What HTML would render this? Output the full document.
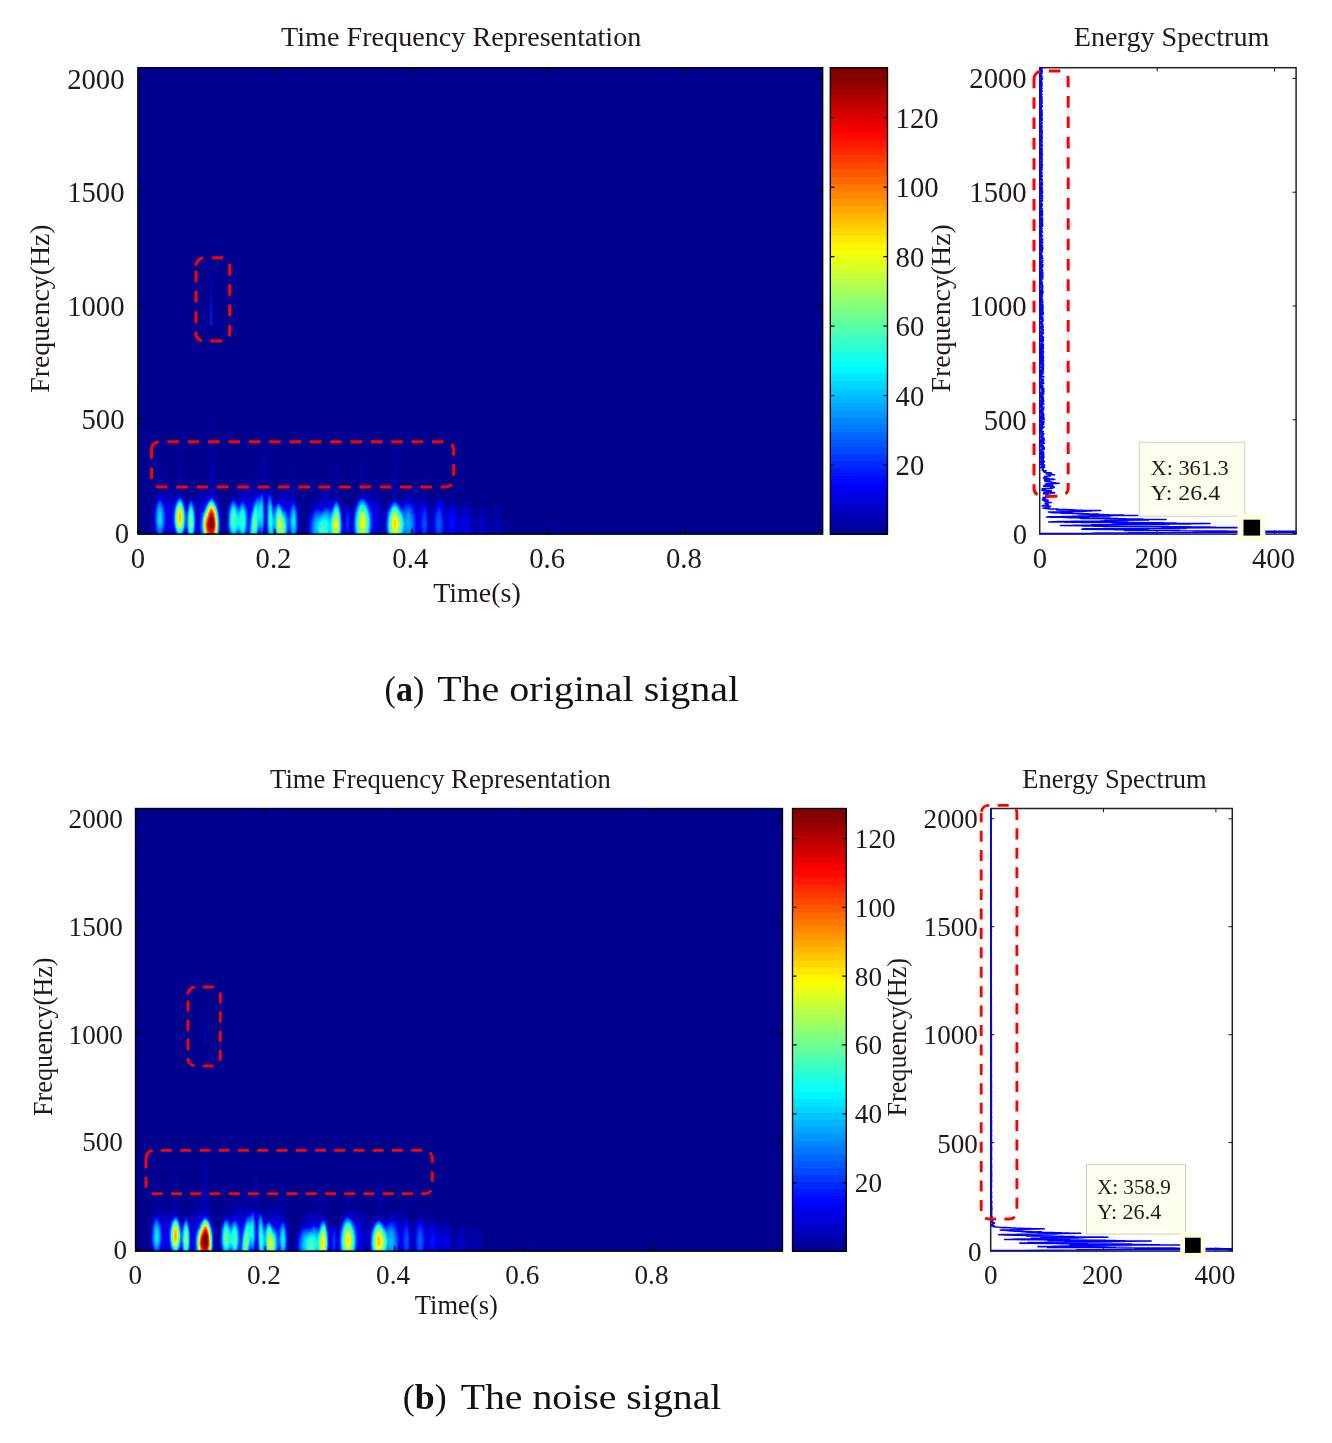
<!DOCTYPE html>
<html lang="en"><head><meta charset="utf-8"><title>Time frequency representation and energy spectrum</title>
<style>
html,body{margin:0;padding:0;background:#fff}
body{width:1332px;height:1443px;overflow:hidden}
svg{display:block;filter:blur(0.45px)}
text{font-family:"Liberation Serif", serif;fill:#231815}
.cap{font-size:36.5px;fill:#111}
</style></head><body>
<svg width="1332" height="1443" viewBox="0 0 1332 1443">
<defs>
<radialGradient id="gg"><stop offset="0.00" stop-color="#fff" stop-opacity="1.000"/><stop offset="0.05" stop-color="#fff" stop-opacity="0.994"/><stop offset="0.10" stop-color="#fff" stop-opacity="0.976"/><stop offset="0.15" stop-color="#fff" stop-opacity="0.946"/><stop offset="0.20" stop-color="#fff" stop-opacity="0.905"/><stop offset="0.25" stop-color="#fff" stop-opacity="0.854"/><stop offset="0.30" stop-color="#fff" stop-opacity="0.794"/><stop offset="0.35" stop-color="#fff" stop-opacity="0.727"/><stop offset="0.40" stop-color="#fff" stop-opacity="0.655"/><stop offset="0.45" stop-color="#fff" stop-opacity="0.578"/><stop offset="0.50" stop-color="#fff" stop-opacity="0.500"/><stop offset="0.55" stop-color="#fff" stop-opacity="0.422"/><stop offset="0.60" stop-color="#fff" stop-opacity="0.345"/><stop offset="0.65" stop-color="#fff" stop-opacity="0.273"/><stop offset="0.70" stop-color="#fff" stop-opacity="0.206"/><stop offset="0.75" stop-color="#fff" stop-opacity="0.146"/><stop offset="0.80" stop-color="#fff" stop-opacity="0.095"/><stop offset="0.85" stop-color="#fff" stop-opacity="0.054"/><stop offset="0.90" stop-color="#fff" stop-opacity="0.024"/><stop offset="0.95" stop-color="#fff" stop-opacity="0.006"/><stop offset="1.00" stop-color="#fff" stop-opacity="0.000"/></radialGradient>
<radialGradient id="gp"><stop offset="0.00" stop-color="#fff" stop-opacity="1.000"/><stop offset="0.05" stop-color="#fff" stop-opacity="0.998"/><stop offset="0.10" stop-color="#fff" stop-opacity="0.990"/><stop offset="0.15" stop-color="#fff" stop-opacity="0.978"/><stop offset="0.20" stop-color="#fff" stop-opacity="0.960"/><stop offset="0.25" stop-color="#fff" stop-opacity="0.938"/><stop offset="0.30" stop-color="#fff" stop-opacity="0.910"/><stop offset="0.35" stop-color="#fff" stop-opacity="0.878"/><stop offset="0.40" stop-color="#fff" stop-opacity="0.840"/><stop offset="0.45" stop-color="#fff" stop-opacity="0.797"/><stop offset="0.50" stop-color="#fff" stop-opacity="0.750"/><stop offset="0.55" stop-color="#fff" stop-opacity="0.698"/><stop offset="0.60" stop-color="#fff" stop-opacity="0.640"/><stop offset="0.65" stop-color="#fff" stop-opacity="0.577"/><stop offset="0.70" stop-color="#fff" stop-opacity="0.510"/><stop offset="0.75" stop-color="#fff" stop-opacity="0.438"/><stop offset="0.80" stop-color="#fff" stop-opacity="0.360"/><stop offset="0.85" stop-color="#fff" stop-opacity="0.278"/><stop offset="0.90" stop-color="#fff" stop-opacity="0.190"/><stop offset="0.95" stop-color="#fff" stop-opacity="0.098"/><stop offset="1.00" stop-color="#fff" stop-opacity="0.000"/></radialGradient>
<linearGradient id="stk" x1="0" y1="0" x2="0" y2="1"><stop offset="0" stop-color="#0008c0" stop-opacity="0"/><stop offset=".5" stop-color="#0008cc" stop-opacity=".6"/><stop offset="1" stop-color="#0818e0" stop-opacity="1"/></linearGradient>
<linearGradient id="jetbar" x1="0" y1="0" x2="0" y2="1"><stop offset="0.000" stop-color="#800000"/><stop offset="0.125" stop-color="#ff0000"/><stop offset="0.250" stop-color="#ff8000"/><stop offset="0.375" stop-color="#ffff00"/><stop offset="0.500" stop-color="#80ff80"/><stop offset="0.625" stop-color="#00ffff"/><stop offset="0.750" stop-color="#0080ff"/><stop offset="0.875" stop-color="#0000ff"/><stop offset="1.000" stop-color="#00008f"/></linearGradient>
<filter id="jeta" filterUnits="userSpaceOnUse" x="137.6" y="67.4" width="685.4" height="467" color-interpolation-filters="sRGB"><feGaussianBlur stdDeviation="0.8"/><feComponentTransfer><feFuncR type="table" tableValues="0 0 0 0 0 0 0 0 0 0 0 0 0 0 0 0 0 0 0 0 0 0 0 0 0 0.011 0.076 0.142 0.208 0.275 0.343 0.411 0.48 0.55 0.621 0.692 0.764 0.837 0.911 0.985 1 1 1 1 1 1 1 1 1 1 1 1 0.962 0.874 0.784 0.694 0.602 0.508 0.5 0.5 0.5 0.5 0.5 0.5 0.5 0.5 0.5 0.5 0.5 0.5 0.5 0.5 0.5 0.5 0.5 0.5 0.5 0.5 0.5 0.5 0.5 0.5 0.5 0.5 0.5 0.5 0.5 0.5 0.5 0.5 0.5 0.5 0.5 0.5 0.5 0.5 0.5 0.5 0.5 0.5 0.5 0.5 0.5 0.5 0.5 0.5 0.5 0.5 0.5 0.5 0.5 0.5 0.5 0.5 0.5 0.5 0.5 0.5 0.5 0.5 0.5 0.5 0.5 0.5 0.5 0.5 0.5 0.5 0.5"/><feFuncG type="table" tableValues="0 0 0 0 0 0 0 0 0 0.049 0.105 0.162 0.219 0.276 0.335 0.393 0.453 0.513 0.573 0.634 0.695 0.757 0.82 0.883 0.947 1 1 1 1 1 1 1 1 1 1 1 1 1 1 1 0.94 0.863 0.786 0.708 0.629 0.55 0.469 0.387 0.304 0.22 0.135 0.049 0 0 0 0 0 0 0 0 0 0 0 0 0 0 0 0 0 0 0 0 0 0 0 0 0 0 0 0 0 0 0 0 0 0 0 0 0 0 0 0 0 0 0 0 0 0 0 0 0 0 0 0 0 0 0 0 0 0 0 0 0 0 0 0 0 0 0 0 0 0 0 0 0 0 0 0 0"/><feFuncB type="table" tableValues="0.562 0.615 0.667 0.721 0.774 0.828 0.883 0.937 0.993 1 1 1 1 1 1 1 1 1 1 1 1 1 1 1 1 0.989 0.924 0.858 0.792 0.725 0.657 0.589 0.52 0.45 0.379 0.308 0.236 0.163 0.089 0.015 0 0 0 0 0 0 0 0 0 0 0 0 0 0 0 0 0 0 0 0 0 0 0 0 0 0 0 0 0 0 0 0 0 0 0 0 0 0 0 0 0 0 0 0 0 0 0 0 0 0 0 0 0 0 0 0 0 0 0 0 0 0 0 0 0 0 0 0 0 0 0 0 0 0 0 0 0 0 0 0 0 0 0 0 0 0 0 0 0"/></feComponentTransfer></filter>
<filter id="jetb" filterUnits="userSpaceOnUse" x="135.2" y="808.2" width="647.6" height="443.2" color-interpolation-filters="sRGB"><feGaussianBlur stdDeviation="0.8"/><feComponentTransfer><feFuncR type="table" tableValues="0 0 0 0 0 0 0 0 0 0 0 0 0 0 0 0 0 0 0 0 0 0 0 0 0 0.011 0.076 0.142 0.208 0.275 0.343 0.411 0.48 0.55 0.621 0.692 0.764 0.837 0.911 0.985 1 1 1 1 1 1 1 1 1 1 1 1 0.962 0.874 0.784 0.694 0.602 0.508 0.5 0.5 0.5 0.5 0.5 0.5 0.5 0.5 0.5 0.5 0.5 0.5 0.5 0.5 0.5 0.5 0.5 0.5 0.5 0.5 0.5 0.5 0.5 0.5 0.5 0.5 0.5 0.5 0.5 0.5 0.5 0.5 0.5 0.5 0.5 0.5 0.5 0.5 0.5 0.5 0.5 0.5 0.5 0.5 0.5 0.5 0.5 0.5 0.5 0.5 0.5 0.5 0.5 0.5 0.5 0.5 0.5 0.5 0.5 0.5 0.5 0.5 0.5 0.5 0.5 0.5 0.5 0.5 0.5 0.5 0.5"/><feFuncG type="table" tableValues="0 0 0 0 0 0 0 0 0 0.049 0.105 0.162 0.219 0.276 0.335 0.393 0.453 0.513 0.573 0.634 0.695 0.757 0.82 0.883 0.947 1 1 1 1 1 1 1 1 1 1 1 1 1 1 1 0.94 0.863 0.786 0.708 0.629 0.55 0.469 0.387 0.304 0.22 0.135 0.049 0 0 0 0 0 0 0 0 0 0 0 0 0 0 0 0 0 0 0 0 0 0 0 0 0 0 0 0 0 0 0 0 0 0 0 0 0 0 0 0 0 0 0 0 0 0 0 0 0 0 0 0 0 0 0 0 0 0 0 0 0 0 0 0 0 0 0 0 0 0 0 0 0 0 0 0 0"/><feFuncB type="table" tableValues="0.562 0.615 0.667 0.721 0.774 0.828 0.883 0.937 0.993 1 1 1 1 1 1 1 1 1 1 1 1 1 1 1 1 0.989 0.924 0.858 0.792 0.725 0.657 0.589 0.52 0.45 0.379 0.308 0.236 0.163 0.089 0.015 0 0 0 0 0 0 0 0 0 0 0 0 0 0 0 0 0 0 0 0 0 0 0 0 0 0 0 0 0 0 0 0 0 0 0 0 0 0 0 0 0 0 0 0 0 0 0 0 0 0 0 0 0 0 0 0 0 0 0 0 0 0 0 0 0 0 0 0 0 0 0 0 0 0 0 0 0 0 0 0 0 0 0 0 0 0 0 0 0"/></feComponentTransfer></filter>
</defs>
<rect width="1332" height="1443" fill="#fff"/>
<clipPath id="cpa"><rect x="137.6" y="67.4" width="685.4" height="467"/></clipPath>
<rect x="137.6" y="67.4" width="685.4" height="467" fill="#00008f"/>
<g clip-path="url(#cpa)"><g filter="url(#jeta)">
<rect x="137.6" y="386.7" width="452" height="147.7" fill="#000"/>
<ellipse cx="169" cy="517.6" rx="20.5" ry="38.7" fill="url(#gg)" opacity="0.056"/>
<ellipse cx="206.6" cy="517.6" rx="20.5" ry="41" fill="url(#gg)" opacity="0.061"/>
<ellipse cx="247.6" cy="517.6" rx="20.5" ry="43.2" fill="url(#gg)" opacity="0.069"/>
<ellipse cx="285.3" cy="517.6" rx="17.8" ry="41" fill="url(#gg)" opacity="0.061"/>
<ellipse cx="326.3" cy="519.9" rx="20.5" ry="38.7" fill="url(#gg)" opacity="0.061"/>
<ellipse cx="370.8" cy="519.9" rx="20.5" ry="38.7" fill="url(#gg)" opacity="0.061"/>
<ellipse cx="411.8" cy="519.9" rx="20.5" ry="38.7" fill="url(#gg)" opacity="0.052"/>
<ellipse cx="446" cy="519.9" rx="20.5" ry="34.1" fill="url(#gg)" opacity="0.031"/>
<ellipse cx="159.6" cy="481.2" rx="3.4" ry="34.1" fill="url(#gg)" opacity="0.013"/>
<ellipse cx="180" cy="478.9" rx="3.4" ry="38.7" fill="url(#gg)" opacity="0.022"/>
<ellipse cx="211.6" cy="476.6" rx="4.1" ry="52.3" fill="url(#gg)" opacity="0.026"/>
<ellipse cx="211.6" cy="435.7" rx="2.7" ry="34.1" fill="url(#gg)" opacity="0.011"/>
<ellipse cx="264.7" cy="476.6" rx="3.4" ry="41" fill="url(#gg)" opacity="0.022"/>
<ellipse cx="256.5" cy="484.6" rx="3.4" ry="27.3" fill="url(#gg)" opacity="0.018"/>
<ellipse cx="294.2" cy="483.4" rx="3.4" ry="27.3" fill="url(#gg)" opacity="0.013"/>
<ellipse cx="336.6" cy="481.2" rx="3.4" ry="34.1" fill="url(#gg)" opacity="0.015"/>
<ellipse cx="362.1" cy="481.2" rx="3.4" ry="34.1" fill="url(#gg)" opacity="0.018"/>
<ellipse cx="394.8" cy="478.9" rx="4.1" ry="38.7" fill="url(#gg)" opacity="0.022"/>
<ellipse cx="424.8" cy="485.7" rx="3.4" ry="25" fill="url(#gg)" opacity="0.011"/>
<ellipse cx="159.6" cy="518" rx="6.2" ry="22.8" fill="url(#gp)" opacity="0.142"/>
<ellipse cx="159.6" cy="509.8" rx="3.4" ry="21.6" fill="url(#gg)" opacity="0.027"/>
<ellipse cx="159.6" cy="527.3" rx="7.1" ry="13.7" fill="url(#gg)" opacity="0.021"/>
<ellipse cx="180" cy="517.6" rx="6.7" ry="21.6" fill="url(#gp)" opacity="0.295"/>
<ellipse cx="180" cy="509.8" rx="3.7" ry="20.5" fill="url(#gg)" opacity="0.062"/>
<ellipse cx="180" cy="527.1" rx="7.7" ry="13" fill="url(#gg)" opacity="0.047"/>
<ellipse cx="190.9" cy="521" rx="5.1" ry="23.9" fill="url(#gp)" opacity="0.237"/>
<ellipse cx="190.9" cy="512.4" rx="2.8" ry="22.7" fill="url(#gg)" opacity="0.048"/>
<ellipse cx="190.9" cy="528.5" rx="5.9" ry="14.3" fill="url(#gg)" opacity="0.036"/>
<ellipse cx="211.6" cy="523.5" rx="8.7" ry="25.9" fill="url(#gp)" opacity="0.388"/>
<ellipse cx="211.6" cy="514.2" rx="4.8" ry="24.6" fill="url(#gg)" opacity="0.085"/>
<ellipse cx="211.6" cy="529.5" rx="10" ry="15.6" fill="url(#gg)" opacity="0.065"/>
<ellipse cx="204.5" cy="526.7" rx="5.1" ry="18.2" fill="url(#gp)" opacity="0.115"/>
<ellipse cx="204.5" cy="520.1" rx="2.8" ry="17.3" fill="url(#gg)" opacity="0.022"/>
<ellipse cx="204.5" cy="530.8" rx="5.9" ry="10.9" fill="url(#gg)" opacity="0.016"/>
<ellipse cx="233.3" cy="519.9" rx="6.6" ry="22.8" fill="url(#gp)" opacity="0.213"/>
<ellipse cx="233.3" cy="511.7" rx="3.6" ry="21.6" fill="url(#gg)" opacity="0.043"/>
<ellipse cx="233.3" cy="528" rx="7.6" ry="13.7" fill="url(#gg)" opacity="0.032"/>
<ellipse cx="242.3" cy="521" rx="5.7" ry="21.6" fill="url(#gp)" opacity="0.168"/>
<ellipse cx="242.3" cy="513.2" rx="3.2" ry="20.5" fill="url(#gg)" opacity="0.033"/>
<ellipse cx="242.3" cy="528.5" rx="6.6" ry="13" fill="url(#gg)" opacity="0.025"/>
<ellipse cx="255" cy="523.3" rx="5.3" ry="30.7" fill="url(#gp)" opacity="0.194" transform="rotate(6.8 255 523.3)"/>
<ellipse cx="255" cy="512.2" rx="2.9" ry="29.2" fill="url(#gg)" opacity="0.038" transform="rotate(6.8 255 512.2)"/>
<ellipse cx="255" cy="529.4" rx="6.1" ry="18.4" fill="url(#gg)" opacity="0.029" transform="rotate(6.8 255 529.4)"/>
<ellipse cx="261.9" cy="514.2" rx="3.4" ry="27.3" fill="url(#gp)" opacity="0.168"/>
<ellipse cx="261.9" cy="504.3" rx="1.9" ry="25.9" fill="url(#gg)" opacity="0.033"/>
<ellipse cx="261.9" cy="525.8" rx="4" ry="16.4" fill="url(#gg)" opacity="0.025"/>
<ellipse cx="270.4" cy="519.9" rx="4.5" ry="30.7" fill="url(#gp)" opacity="0.200" transform="rotate(-2 270.4 519.9)"/>
<ellipse cx="270.4" cy="508.8" rx="2.5" ry="29.2" fill="url(#gg)" opacity="0.040" transform="rotate(-2 270.4 508.8)"/>
<ellipse cx="270.4" cy="528" rx="5.2" ry="18.4" fill="url(#gg)" opacity="0.030" transform="rotate(-2 270.4 528)"/>
<ellipse cx="279.5" cy="524.4" rx="6.2" ry="23.9" fill="url(#gp)" opacity="0.231" transform="rotate(-4 279.5 524.4)"/>
<ellipse cx="279.5" cy="515.8" rx="3.4" ry="22.7" fill="url(#gg)" opacity="0.047" transform="rotate(-4 279.5 515.8)"/>
<ellipse cx="279.5" cy="529.9" rx="7.1" ry="14.3" fill="url(#gg)" opacity="0.035" transform="rotate(-4 279.5 529.9)"/>
<ellipse cx="285.3" cy="525.5" rx="4.1" ry="18.2" fill="url(#gp)" opacity="0.101"/>
<ellipse cx="285.3" cy="519" rx="2.3" ry="17.3" fill="url(#gg)" opacity="0.019"/>
<ellipse cx="285.3" cy="530.3" rx="4.7" ry="10.9" fill="url(#gg)" opacity="0.014"/>
<ellipse cx="293.8" cy="522.1" rx="5.1" ry="22.8" fill="url(#gp)" opacity="0.149"/>
<ellipse cx="293.8" cy="513.9" rx="2.8" ry="21.6" fill="url(#gg)" opacity="0.029"/>
<ellipse cx="293.8" cy="529" rx="5.9" ry="13.7" fill="url(#gg)" opacity="0.022"/>
<ellipse cx="316.7" cy="527.8" rx="10.3" ry="21.6" fill="url(#gp)" opacity="0.122"/>
<ellipse cx="316.7" cy="520" rx="5.6" ry="20.5" fill="url(#gg)" opacity="0.023"/>
<ellipse cx="316.7" cy="531.2" rx="11.8" ry="13" fill="url(#gg)" opacity="0.018"/>
<ellipse cx="326.8" cy="527.8" rx="9" ry="22.8" fill="url(#gp)" opacity="0.128"/>
<ellipse cx="326.8" cy="519.6" rx="5" ry="21.6" fill="url(#gg)" opacity="0.025"/>
<ellipse cx="326.8" cy="531.2" rx="10.4" ry="13.7" fill="url(#gg)" opacity="0.019"/>
<ellipse cx="336.6" cy="523.9" rx="6.2" ry="25" fill="url(#gp)" opacity="0.255"/>
<ellipse cx="336.6" cy="514.9" rx="3.4" ry="23.8" fill="url(#gg)" opacity="0.052"/>
<ellipse cx="336.6" cy="529.7" rx="7.1" ry="15" fill="url(#gg)" opacity="0.039"/>
<ellipse cx="347.5" cy="523.3" rx="4.5" ry="20.5" fill="url(#gp)" opacity="0.086"/>
<ellipse cx="347.5" cy="515.9" rx="2.5" ry="19.5" fill="url(#gg)" opacity="0.016"/>
<ellipse cx="347.5" cy="529.4" rx="5.2" ry="12.3" fill="url(#gg)" opacity="0.012"/>
<ellipse cx="362.1" cy="522.6" rx="10.1" ry="26.8" fill="url(#gp)" opacity="0.243"/>
<ellipse cx="362.1" cy="512.9" rx="5.6" ry="25.5" fill="url(#gg)" opacity="0.049"/>
<ellipse cx="362.1" cy="529.1" rx="11.6" ry="16.1" fill="url(#gg)" opacity="0.037"/>
<ellipse cx="394.8" cy="523.3" rx="9.8" ry="23.9" fill="url(#gp)" opacity="0.284"/>
<ellipse cx="394.8" cy="514.7" rx="5.4" ry="22.7" fill="url(#gg)" opacity="0.059"/>
<ellipse cx="394.8" cy="529.4" rx="11.3" ry="14.3" fill="url(#gg)" opacity="0.044"/>
<ellipse cx="407.7" cy="524.4" rx="9.8" ry="26.2" fill="url(#gp)" opacity="0.101"/>
<ellipse cx="407.7" cy="515" rx="5.4" ry="24.9" fill="url(#gg)" opacity="0.019"/>
<ellipse cx="407.7" cy="529.9" rx="11.3" ry="15.7" fill="url(#gg)" opacity="0.014"/>
<ellipse cx="424.8" cy="523.3" rx="5.6" ry="26.2" fill="url(#gp)" opacity="0.083"/>
<ellipse cx="424.8" cy="513.8" rx="3.1" ry="24.9" fill="url(#gg)" opacity="0.016"/>
<ellipse cx="424.8" cy="529.4" rx="6.4" ry="15.7" fill="url(#gg)" opacity="0.012"/>
<ellipse cx="438.5" cy="523.3" rx="7" ry="26.2" fill="url(#gp)" opacity="0.083"/>
<ellipse cx="438.5" cy="513.8" rx="3.8" ry="24.9" fill="url(#gg)" opacity="0.016"/>
<ellipse cx="438.5" cy="529.4" rx="8" ry="15.7" fill="url(#gg)" opacity="0.012"/>
<ellipse cx="452.8" cy="524.4" rx="6.6" ry="23.9" fill="url(#gp)" opacity="0.046"/>
<ellipse cx="452.8" cy="515.8" rx="3.6" ry="22.7" fill="url(#gg)" opacity="0.009"/>
<ellipse cx="452.8" cy="529.9" rx="7.6" ry="14.3" fill="url(#gg)" opacity="0.006"/>
<ellipse cx="465.8" cy="524.4" rx="9.8" ry="23.9" fill="url(#gp)" opacity="0.042"/>
<ellipse cx="465.8" cy="515.8" rx="5.4" ry="22.7" fill="url(#gg)" opacity="0.008"/>
<ellipse cx="465.8" cy="529.9" rx="11.3" ry="14.3" fill="url(#gg)" opacity="0.006"/>
<ellipse cx="482.3" cy="525.5" rx="8.2" ry="21.6" fill="url(#gp)" opacity="0.028"/>
<ellipse cx="482.3" cy="517.8" rx="4.5" ry="20.5" fill="url(#gg)" opacity="0.005"/>
<ellipse cx="482.3" cy="530.3" rx="9.4" ry="13" fill="url(#gg)" opacity="0.004"/>
<ellipse cx="497.3" cy="525.5" rx="8.2" ry="21.6" fill="url(#gp)" opacity="0.019"/>
<ellipse cx="497.3" cy="517.8" rx="4.5" ry="20.5" fill="url(#gg)" opacity="0.003"/>
<ellipse cx="497.3" cy="530.3" rx="9.4" ry="13" fill="url(#gg)" opacity="0.003"/>
<ellipse cx="552" cy="529" rx="4.9" ry="11.4" fill="url(#gp)" opacity="0.007"/>
<ellipse cx="552" cy="524.9" rx="2.7" ry="10.8" fill="url(#gg)" opacity="0.001"/>
<ellipse cx="552" cy="531.7" rx="5.7" ry="6.8" fill="url(#gg)" opacity="0.001"/>
</g>
<polygon points="210.7,247 211.5,247 212.8,325 209.4,325" fill="url(#stk)" opacity="0.9"/>
</g>
<path d="M275 67.4v5.5M275 534.4v-5.5M411.8 67.4v5.5M411.8 534.4v-5.5M548.6 67.4v5.5M548.6 534.4v-5.5M685.4 67.4v5.5M685.4 534.4v-5.5M137.6 531.8h5.5M823 531.8h-5.5M137.6 418.4h5.5M823 418.4h-5.5M137.6 305.1h5.5M823 305.1h-5.5M137.6 191.7h5.5M823 191.7h-5.5M137.6 78.4h5.5M823 78.4h-5.5" stroke="#000" stroke-width="1.2" fill="none"/>
<rect x="137.9" y="67.7" width="684.8" height="466.4" fill="none" stroke="#000" stroke-width="1.35"/>
<rect x="830" y="67.40" width="57.8" height="467.00" fill="#800000"/>
<rect x="830" y="74.70" width="57.8" height="459.70" fill="#870000"/>
<rect x="830" y="81.99" width="57.8" height="452.41" fill="#970000"/>
<rect x="830" y="89.29" width="57.8" height="445.11" fill="#a70000"/>
<rect x="830" y="96.59" width="57.8" height="437.81" fill="#b70000"/>
<rect x="830" y="103.88" width="57.8" height="430.52" fill="#c70000"/>
<rect x="830" y="111.18" width="57.8" height="423.22" fill="#d70000"/>
<rect x="830" y="118.48" width="57.8" height="415.92" fill="#e70000"/>
<rect x="830" y="125.77" width="57.8" height="408.62" fill="#f70000"/>
<rect x="830" y="133.07" width="57.8" height="401.33" fill="#ff0800"/>
<rect x="830" y="140.37" width="57.8" height="394.03" fill="#ff1800"/>
<rect x="830" y="147.67" width="57.8" height="386.73" fill="#ff2800"/>
<rect x="830" y="154.96" width="57.8" height="379.44" fill="#ff3800"/>
<rect x="830" y="162.26" width="57.8" height="372.14" fill="#ff4800"/>
<rect x="830" y="169.56" width="57.8" height="364.84" fill="#ff5800"/>
<rect x="830" y="176.85" width="57.8" height="357.55" fill="#ff6800"/>
<rect x="830" y="184.15" width="57.8" height="350.25" fill="#ff7800"/>
<rect x="830" y="191.45" width="57.8" height="342.95" fill="#ff8700"/>
<rect x="830" y="198.74" width="57.8" height="335.66" fill="#ff9700"/>
<rect x="830" y="206.04" width="57.8" height="328.36" fill="#ffa700"/>
<rect x="830" y="213.34" width="57.8" height="321.06" fill="#ffb700"/>
<rect x="830" y="220.63" width="57.8" height="313.77" fill="#ffc700"/>
<rect x="830" y="227.93" width="57.8" height="306.47" fill="#ffd700"/>
<rect x="830" y="235.23" width="57.8" height="299.17" fill="#ffe700"/>
<rect x="830" y="242.52" width="57.8" height="291.88" fill="#fff700"/>
<rect x="830" y="249.82" width="57.8" height="284.58" fill="#f7ff08"/>
<rect x="830" y="257.12" width="57.8" height="277.28" fill="#e7ff18"/>
<rect x="830" y="264.42" width="57.8" height="269.98" fill="#d7ff28"/>
<rect x="830" y="271.71" width="57.8" height="262.69" fill="#c7ff38"/>
<rect x="830" y="279.01" width="57.8" height="255.39" fill="#b7ff48"/>
<rect x="830" y="286.31" width="57.8" height="248.09" fill="#a7ff58"/>
<rect x="830" y="293.60" width="57.8" height="240.80" fill="#97ff68"/>
<rect x="830" y="300.90" width="57.8" height="233.50" fill="#87ff78"/>
<rect x="830" y="308.20" width="57.8" height="226.20" fill="#78ff87"/>
<rect x="830" y="315.49" width="57.8" height="218.91" fill="#68ff97"/>
<rect x="830" y="322.79" width="57.8" height="211.61" fill="#58ffa7"/>
<rect x="830" y="330.09" width="57.8" height="204.31" fill="#48ffb7"/>
<rect x="830" y="337.38" width="57.8" height="197.02" fill="#38ffc7"/>
<rect x="830" y="344.68" width="57.8" height="189.72" fill="#28ffd7"/>
<rect x="830" y="351.98" width="57.8" height="182.42" fill="#18ffe7"/>
<rect x="830" y="359.27" width="57.8" height="175.12" fill="#08fff7"/>
<rect x="830" y="366.57" width="57.8" height="167.83" fill="#00f7ff"/>
<rect x="830" y="373.87" width="57.8" height="160.53" fill="#00e7ff"/>
<rect x="830" y="381.17" width="57.8" height="153.23" fill="#00d7ff"/>
<rect x="830" y="388.46" width="57.8" height="145.94" fill="#00c7ff"/>
<rect x="830" y="395.76" width="57.8" height="138.64" fill="#00b7ff"/>
<rect x="830" y="403.06" width="57.8" height="131.34" fill="#00a7ff"/>
<rect x="830" y="410.35" width="57.8" height="124.05" fill="#0097ff"/>
<rect x="830" y="417.65" width="57.8" height="116.75" fill="#0087ff"/>
<rect x="830" y="424.95" width="57.8" height="109.45" fill="#0078ff"/>
<rect x="830" y="432.24" width="57.8" height="102.16" fill="#0068ff"/>
<rect x="830" y="439.54" width="57.8" height="94.86" fill="#0058ff"/>
<rect x="830" y="446.84" width="57.8" height="87.56" fill="#0048ff"/>
<rect x="830" y="454.13" width="57.8" height="80.27" fill="#0038ff"/>
<rect x="830" y="461.43" width="57.8" height="72.97" fill="#0028ff"/>
<rect x="830" y="468.73" width="57.8" height="65.67" fill="#0018ff"/>
<rect x="830" y="476.02" width="57.8" height="58.38" fill="#0008ff"/>
<rect x="830" y="483.32" width="57.8" height="51.08" fill="#0000f7"/>
<rect x="830" y="490.62" width="57.8" height="43.78" fill="#0000e7"/>
<rect x="830" y="497.92" width="57.8" height="36.48" fill="#0000d7"/>
<rect x="830" y="505.21" width="57.8" height="29.19" fill="#0000c7"/>
<rect x="830" y="512.51" width="57.8" height="21.89" fill="#0000b7"/>
<rect x="830" y="519.81" width="57.8" height="14.59" fill="#0000a7"/>
<rect x="830" y="527.10" width="57.8" height="7.30" fill="#000097"/>
<text x="895.6" y="475" font-size="28.7">20</text>
<text x="895.6" y="405.5" font-size="28.7">40</text>
<text x="895.6" y="336.1" font-size="28.7">60</text>
<text x="895.6" y="266.6" font-size="28.7">80</text>
<text x="895.6" y="197.2" font-size="28.7">100</text>
<text x="895.6" y="127.7" font-size="28.7">120</text>
<path d="M830 465h4.5M887.8 465h-4.5M830 395.5h4.5M887.8 395.5h-4.5M830 326.1h4.5M887.8 326.1h-4.5M830 256.6h4.5M887.8 256.6h-4.5M830 187.2h4.5M887.8 187.2h-4.5M830 117.7h4.5M887.8 117.7h-4.5" stroke="#000" stroke-width="1.2" fill="none"/>
<rect x="830.3" y="67.7" width="57.2" height="466.4" fill="none" stroke="#000" stroke-width="1.35"/>
<text x="129" y="543.00" font-size="28.7" text-anchor="end">0</text>
<text x="124.5" y="429.43" font-size="28.7" text-anchor="end">500</text>
<text x="124.5" y="315.85" font-size="28.7" text-anchor="end">1000</text>
<text x="124.5" y="202.28" font-size="28.7" text-anchor="end">1500</text>
<text x="124.5" y="88.70" font-size="28.7" text-anchor="end">2000</text>
<text x="137.9" y="568.2" font-size="28.7" text-anchor="middle">0</text>
<text x="273.5" y="568.2" font-size="28.7" text-anchor="middle">0.2</text>
<text x="410.3" y="568.2" font-size="28.7" text-anchor="middle">0.4</text>
<text x="547.1" y="568.2" font-size="28.7" text-anchor="middle">0.6</text>
<text x="683.9" y="568.2" font-size="28.7" text-anchor="middle">0.8</text>
<text x="477" y="601.5" font-size="28.0" text-anchor="middle">Time(s)</text>
<text x="461.2" y="45.8" font-size="28.0" text-anchor="middle" textLength="360.2" lengthAdjust="spacingAndGlyphs">Time Frequency Representation</text>
<text transform="translate(48.5 308.6) rotate(-90)" font-size="28.0" text-anchor="middle" textLength="168.4" lengthAdjust="spacingAndGlyphs">Frequency(Hz)</text>
<path d="M151.5 449.7A8 8 0 0 1 159.5 441.7H445.6A8 8 0 0 1 453.6 449.7V478.9A8 8 0 0 1 445.6 486.9H159.5A8 8 0 0 1 151.5 478.9Z" fill="none" stroke="#ff0000" stroke-width="3.0" stroke-dasharray="11.6 8.75" stroke-dashoffset="0"/>
<path d="M196 265.8A8 8 0 0 1 204 257.8H221.7A8 8 0 0 1 229.7 265.8V333.1A8 8 0 0 1 221.7 341.1H204A8 8 0 0 1 196 333.1Z" fill="none" stroke="#ff0000" stroke-width="3.0" stroke-dasharray="11.6 8.75" stroke-dashoffset="0"/>
<clipPath id="cea"><rect x="1039.4" y="67.4" width="257" height="467"/></clipPath>
<text x="1027.1" y="544.20" font-size="28.7" text-anchor="end">0</text>
<text x="1026.7" y="430.10" font-size="28.7" text-anchor="end">500</text>
<text x="1026.7" y="316.00" font-size="28.7" text-anchor="end">1000</text>
<text x="1026.7" y="201.90" font-size="28.7" text-anchor="end">1500</text>
<text x="1026.7" y="87.80" font-size="28.7" text-anchor="end">2000</text>
<path d="M1157.2 67.4v4M1157.2 534.4v-4M1274.5 67.4v4M1274.5 534.4v-4M1039.4 533.6h4M1296.4 533.6h-4M1039.4 419.8h4M1296.4 419.8h-4M1039.4 306h4M1296.4 306h-4M1039.4 192.2h4M1296.4 192.2h-4M1039.4 78.4h4M1296.4 78.4h-4" stroke="#111" stroke-width="1" fill="none"/>
<rect x="1039.7" y="67.7" width="256.4" height="466.4" fill="none" stroke="#222" stroke-width="1.5"/>
<g clip-path="url(#cea)"><polyline points="1039.9,533.6 1056.5,533.5 1067.1,533.4 1091.2,533.3 1096.3,533.1 1130.3,533 1157.2,532.9 1166.3,532.8 1128.1,532.7 1264,532.6 1192.8,532.5 1300.7,532.3 1350.7,532.2 1383.4,532.1 1462.2,532 1424.5,531.9 1287.7,531.8 1363.1,531.7 1207.5,531.6 1317.2,531.4 1270.6,531.3 1265.9,531.2 1216.4,531.1 1227.3,531 1215.9,530.9 1176.4,530.8 1166.5,530.6 1179.5,530.5 1124.3,530.4 1149.6,530.3 1147.5,530.2 1147.4,530.1 1126.7,530 1141.6,529.8 1114.1,529.7 1126.8,529.6 1090.3,529.5 1109.4,529.4 1081.7,529.3 1095.6,529.2 1097.5,529 1110.5,528.9 1083,528.8 1124.3,528.7 1103.9,528.6 1170.8,528.5 1186.5,528.4 1178.5,528.3 1161.2,528.1 1190.7,528 1165.3,527.9 1210.5,527.8 1244,527.7 1251.8,527.6 1162,527.5 1215.8,527.3 1170.2,527.2 1210.3,527.1 1164.6,527 1193.4,526.9 1186.5,526.8 1171.7,526.7 1151.8,526.5 1146.4,526.4 1093.8,526.3 1129.5,526.2 1111.8,526.1 1108.9,526 1081.9,525.9 1085.7,525.7 1060.4,525.6 1065.8,525.5 1074,525.4 1082,525.3 1073.4,525.2 1096.6,525.1 1108,525 1133.1,524.8 1091.5,524.7 1152.4,524.6 1168.9,524.5 1158.2,524.4 1112,524.3 1163.9,524.2 1158.9,524 1190.7,523.9 1115,523.8 1192.1,523.7 1210,523.6 1172.2,523.5 1161.2,523.4 1170.1,523.2 1161.5,523.1 1176.5,523 1128.3,522.9 1163.8,522.8 1157.2,522.7 1127.2,522.6 1081.2,522.4 1103.5,522.3 1064.6,522.2 1071,522.1 1060.9,522 1048.7,521.9 1053.4,521.8 1062.6,521.7 1056.8,521.5 1083.3,521.4 1071.4,521.3 1101.4,521.2 1100.2,521.1 1109.3,521 1127.9,520.9 1121.2,520.7 1104.4,520.6 1130.5,520.5 1112.2,520.4 1134.6,520.3 1117.9,520.2 1148.8,520.1 1116.8,519.9 1143.2,519.8 1132.6,519.7 1144.1,519.6 1166,519.5 1144.4,519.4 1143.9,519.3 1141.3,519.1 1114.8,519 1122.4,518.9 1102.5,518.8 1125.6,518.7 1080.7,518.6 1117.7,518.5 1098.4,518.4 1100.8,518.2 1110.3,518.1 1099.4,518 1078.3,517.9 1088.7,517.8 1067.9,517.7 1077.5,517.6 1066.4,517.4 1062.3,517.3 1050.3,517.2 1054.5,517.1 1049.5,517 1046.4,516.9 1048.7,516.8 1062,516.6 1064.2,516.5 1077.1,516.4 1071.9,516.3 1092.7,516.2 1110.3,516.1 1105.4,516 1097,515.8 1112.3,515.7 1094.9,515.6 1129,515.5 1137.8,515.4 1116.1,515.3 1104.4,515.2 1123.4,515.1 1089.9,514.9 1108.8,514.8 1103.5,514.7 1103.5,514.6 1078.2,514.5 1100.6,514.4 1089.7,514.3 1090.7,514.1 1098.6,514 1088.2,513.9 1071.7,513.8 1088.4,513.7 1070.5,513.6 1083.1,513.5 1061.8,513.3 1073.6,513.2 1066.6,513.1 1072.3,513 1059.7,512.9 1063.2,512.8 1052.4,512.7 1059.7,512.5 1050.1,512.4 1055.5,512.3 1053.3,512.2 1050.1,512.1 1048.3,512 1057.8,511.9 1061.2,511.8 1069,511.6 1069.6,511.5 1076.2,511.4 1086.8,511.3 1080.6,511.2 1069.9,511.1 1091.6,511 1072.1,510.8 1090.9,510.7 1100.9,510.6 1090.3,510.5 1073.8,510.4 1083.2,510.3 1078.9,510.2 1074.1,510 1056.7,509.9 1072.8,509.8 1069.2,509.7 1066.3,509.6 1062.1,509.5 1060,509.4 1057.8,509.2 1057.8,509.1 1048.7,509 1052.9,508.9 1049.4,508.8 1048.5,508.7 1046.9,508.6 1045.9,508.5 1043.5,508.3 1045,508.2 1042.9,508.1 1044,508 1044.6,507.9 1045.7,507.7 1047.1,507.4 1049.2,507.2 1048.8,507 1050.4,506.7 1050.5,506.5 1049.7,506.3 1043.5,506.1 1042.1,505.8 1042.4,505.6 1047.3,505.4 1047,505.2 1048.4,504.9 1046.4,504.7 1046.2,504.5 1047.8,504.2 1046.5,504 1045.4,503.8 1045,503.6 1047.2,503.3 1045.5,503.1 1047.2,502.9 1051.1,502.6 1051.2,502.4 1049,502.2 1048.4,502 1046.1,501.7 1046.8,501.5 1044.5,501.3 1044.2,501.1 1044.4,500.8 1047.7,500.6 1047.9,500.4 1048.1,500.1 1042.3,499.9 1045,499.7 1044.6,499.5 1043.4,499.2 1042.9,499 1042.9,498.8 1045.7,498.5 1045.6,498.3 1044.9,498.1 1043.6,497.9 1043,497.6 1044.3,497.4 1048.8,497.2 1047.9,497 1048.2,496.7 1046,496.5 1046.6,496.3 1045.4,496 1050.9,495.8 1050.4,495.6 1050.2,495.4 1047.8,495.1 1046.9,494.9 1047.8,494.7 1046,494.5 1047,494.2 1047.6,494 1043.4,493.8 1043.4,493.5 1045,493.3 1052.7,493.1 1054.6,492.9 1054.3,492.6 1045,492.4 1043.8,492.2 1046.3,491.9 1051.1,491.7 1050.8,491.5 1050.4,491.3 1051.1,491 1049.4,490.8 1051.3,490.6 1042.2,490.4 1044.6,490.1 1041.8,489.9 1042.5,489.7 1045.6,489.4 1042.8,489.2 1045.1,489 1042.2,488.8 1045.2,488.5 1052.2,488.3 1052.8,488.1 1051.3,487.9 1051,487.6 1054.2,487.4 1053.2,487.2 1050.2,486.9 1053.1,486.7 1054,486.5 1043.4,486.3 1044.4,486 1045.6,485.8 1044.3,485.6 1044.7,485.3 1046.4,485.1 1052.8,484.9 1052.8,484.7 1053,484.4 1046.9,484.2 1045.3,484 1047.4,483.8 1057.6,483.5 1059.3,483.3 1056.5,483.1 1054.2,482.8 1053.8,482.6 1053.1,482.4 1050.2,482.2 1051.5,481.9 1047.8,481.7 1045.9,481.5 1046.7,481.3 1044.7,481 1049.8,480.8 1047.2,480.6 1047.6,480.3 1046,480.1 1044.7,479.9 1044.3,479.7 1054.8,479.4 1051.6,479.2 1053.5,479 1049.8,478.7 1048.5,478.5 1047,478.3 1043.4,478.1 1045.6,477.8 1045.1,477.6 1044.5,477.4 1044.3,477.2 1046.4,476.9 1047.1,476.7 1044.8,476.5 1045.3,476.2 1050.2,476 1050.1,475.8 1048.8,475.6 1049.7,475.3 1050.3,475.1 1048.3,474.9 1054.6,474.7 1052.3,474.4 1051.3,474.2 1046.6,474 1046.1,473.7 1047.1,473.5 1051.7,473.3 1051,473.1 1050.7,472.8 1044.8,472.6 1045.1,472.4 1045,472.1 1045,471.9 1043.5,471.7 1043.5,471.5 1045.6,471.2 1045.2,471 1046.3,470.8 1043.1,470.6 1043.4,470.3 1043.5,470.1 1042.1,469.9 1042.3,469.6 1042.3,469.4 1042.8,469.2 1043.1,469 1042.4,468.7 1043.1,468.5 1043.1,468.3 1043.4,468.1 1042.5,467.8 1044.4,467.6 1040.4,467.4 1044.6,467.1 1041.8,466.9 1043.7,466.7 1043.7,466.5 1041.4,466.2 1043.3,466 1043.1,465.8 1043.9,465.5 1041.2,465.3 1043.6,465.1 1044.7,464.9 1043.2,464.6 1042.5,464.4 1040.5,464.2 1042.3,464 1041.6,463.7 1043.4,463.5 1043.2,463.3 1042.7,463 1040.8,462.8 1043.1,462.6 1043,462.4 1040.8,462.1 1044.3,461.9 1043.1,461.7 1040.5,461.5 1044.5,461.2 1040.6,461 1041.5,460.8 1043.4,460.5 1042.8,460.3 1042.6,460.1 1043.1,459.9 1042.1,459.6 1041.4,459.4 1040.8,459.2 1040.2,458.9 1043.4,458.7 1043.6,458.5 1042.5,458.3 1043.5,458 1041.6,457.8 1041.2,457.6 1041.8,457.4 1044.1,457.1 1040.1,456.9 1042.3,456.7 1041.1,456.4 1043.6,456.2 1041.6,456 1041.5,455.8 1041.8,455.5 1042.5,455.3 1043.6,455.1 1041.6,454.9 1044,454.6 1040.4,454.4 1041.2,454.2 1040.4,453.9 1040.4,453.7 1043.6,453.5 1043.4,453.3 1040.8,453 1040.8,452.8 1041.9,452.6 1043.4,452.3 1043.8,452.1 1043.5,451.9 1042.7,451.7 1040.6,451.4 1041.8,451.2 1040.8,451 1042.4,450.8 1042.6,450.5 1040.9,450.3 1041.1,450.1 1043.6,449.8 1040,449.6 1043.7,449.4 1044.1,449.2 1044.4,448.9 1041.7,448.7 1042.5,448.5 1042.7,448.2 1042.9,448 1044.5,447.8 1043.1,447.6 1041.3,447.3 1043.9,447.1 1042.2,446.9 1042.7,446.7 1043.3,446.4 1039.9,446.2 1043.5,446 1043,445.7 1042.2,445.5 1042.4,445.3 1042.1,445.1 1040.8,444.8 1042.4,444.6 1040.1,444.4 1042.2,444.2 1042.9,443.9 1042,443.7 1042.5,443.5 1044.4,443.2 1044,443 1040.5,442.8 1043.6,442.6 1042.8,442.3 1040.1,442.1 1041.6,441.9 1041,441.6 1040.3,441.4 1042.4,441.2 1044.2,441 1041.4,440.7 1043.9,440.5 1043.1,440.3 1040.5,440.1 1043.9,439.8 1042.7,439.6 1044.2,439.4 1043.2,439.1 1043.3,438.9 1041.5,438.7 1043.6,438.5 1044.2,438.2 1043.9,438 1041.9,437.8 1043.4,437.6 1042.1,437.3 1040.4,437.1 1040.1,436.9 1040.3,436.6 1040.8,436.4 1040.6,436.2 1042.2,436 1043.1,435.7 1042.3,435.5 1041.8,435.3 1042.9,435 1041.3,434.8 1042,434.6 1043.3,434.4 1041.7,434.1 1040.7,433.9 1044,433.7 1043.2,433.5 1041.6,433.2 1041.6,433 1042.3,432.8 1042.6,432.5 1040.9,432.3 1039.9,432.1 1040.8,431.9 1043.4,431.6 1040.5,431.4 1042,431.2 1040.8,431 1040.8,430.7 1040.7,430.5 1041.7,430.3 1040.7,430 1040,429.8 1040.4,429.6 1040.7,429.4 1042.1,429.1 1040.2,428.9 1040,428.7 1041.9,428.4 1041.7,428.2 1043,428 1040.1,427.8 1041.7,427.5 1041.7,427.3 1040,427.1 1044.2,426.9 1040.9,426.6 1040.3,426.4 1042,426.2 1040.6,425.9 1042.7,425.7 1041.4,425.5 1040.4,425.3 1040.1,425 1043.1,424.8 1041.1,424.6 1043.4,424.4 1042,424.1 1044,423.9 1041.2,423.7 1041,423.4 1041.1,423.2 1043.5,423 1042.7,422.8 1041.4,422.5 1040.3,422.3 1042.9,422.1 1044.2,421.8 1042.5,421.6 1039.9,421.4 1040,421.2 1040.3,420.9 1040.6,420.7 1040.1,420.5 1040.1,420.3 1042.8,420 1043.8,419.8 1040.8,419.6 1044.2,419.3 1042,419.1 1043.4,418.9 1043.9,418.7 1044,418.4 1040,418.2 1041.2,418 1042.5,417.8 1044,417.5 1040.3,417.3 1041.2,417.1 1043.6,416.8 1040.4,416.6 1041.6,416.4 1041.3,416.2 1042.8,415.9 1043.9,415.7 1040.7,415.5 1043.1,415.2 1043.1,415 1043.5,414.8 1042.3,414.6 1043.9,414.3 1041.5,414.1 1041.7,413.9 1040.9,413.7 1043.3,413.4 1042,413.2 1041.1,413 1040.6,412.7 1043,412.5 1042.5,412.3 1042.9,412.1 1041.6,411.8 1042,411.6 1040.6,411.4 1042.9,411.2 1040,410.9 1041.9,410.7 1043.1,410.5 1042.8,410.2 1040.3,410 1040.9,409.8 1043.5,409.6 1042.6,409.3 1043.6,409.1 1043.6,408.9 1041.8,408.6 1043.7,408.4 1043,408.2 1041.3,408 1041.5,407.7 1040.2,407.5 1041.6,407.3 1043.9,407.1 1040.3,406.8 1042.3,406.6 1040.4,406.4 1040.2,406.1 1042.6,405.9 1040.9,405.7 1040.1,405.5 1040.5,405.2 1042.6,405 1042.4,404.8 1039.9,404.6 1040.9,404.3 1044,404.1 1040.8,403.9 1042.3,403.6 1041.7,403.4 1043.2,403.2 1042.4,403 1043.2,402.7 1042.1,402.5 1040.7,402.3 1040.6,402 1040.2,401.8 1043.3,401.6 1040.4,401.4 1040,401.1 1043.9,400.9 1040.7,400.7 1043.6,400.5 1040.3,400.2 1041.8,400 1040.8,399.8 1043.3,399.5 1042.5,399.3 1042.6,399.1 1043.1,398.9 1043.5,398.6 1041.3,398.4 1042.4,398.2 1041.7,398 1040.4,397.7 1043.4,397.5 1042.4,397.3 1043.3,397 1040.8,396.8 1042.1,396.6 1041.8,396.4 1042.9,396.1 1040.2,395.9 1041.3,395.7 1041.9,395.4 1040.2,395.2 1042.2,395 1042.9,394.8 1041.6,394.5 1042.6,394.3 1042.4,394.1 1040.8,393.9 1041.3,393.6 1044,393.4 1041.3,393.2 1041.7,392.9 1040.2,392.7 1040.8,392.5 1040.6,392.3 1043.7,392 1042.9,391.8 1043.5,391.6 1043.9,391.4 1042.4,391.1 1043.7,390.9 1042.1,390.7 1041.6,390.4 1043.8,390.2 1043.6,390 1043.8,389.8 1041.9,389.5 1043,389.3 1041.5,389.1 1043.9,388.8 1043.6,388.6 1041.1,388.4 1043.7,388.2 1040.6,387.9 1040.3,387.7 1042.8,387.5 1041.1,387.3 1042,387 1042.5,386.8 1040.1,386.6 1042.9,386.3 1041,386.1 1041.6,385.9 1041.3,385.7 1042.9,385.4 1042.9,385.2 1041.1,385 1040.3,384.7 1041.1,384.5 1041.5,384.3 1040.2,384.1 1040.5,383.8 1043,383.6 1042.7,383.4 1043.8,383.2 1043.8,382.9 1043.4,382.7 1041.4,382.5 1040.5,382.2 1041.1,382 1041.7,381.8 1042,381.6 1042.1,381.3 1041.3,381.1 1043.3,380.9 1041,380.7 1041.7,380.4 1043.4,380.2 1043.1,380 1041.1,379.7 1040.9,379.5 1043.1,379.3 1039.9,379.1 1040.4,378.8 1042,378.6 1042,378.4 1040.6,378.1 1040.1,377.9 1040.7,377.7 1042.9,377.5 1041.7,377.2 1043.8,377 1043,376.8 1043.8,376.6 1040,376.3 1040.6,376.1 1040,375.9 1041.6,375.6 1041.2,375.4 1040.1,375.2 1042,375 1040.3,374.7 1041.1,374.5 1040.9,374.3 1043,374.1 1041.5,373.8 1040.9,373.6 1040.1,373.4 1041.6,373.1 1042.3,372.9 1042.5,372.7 1043.5,372.5 1043.1,372.2 1040.9,372 1040.4,371.8 1042.9,371.5 1043,371.3 1041.9,371.1 1043.1,370.9 1042,370.6 1041,370.4 1040.6,370.2 1040,370 1042.4,369.7 1043.4,369.5 1043.4,369.3 1041.7,369 1042.5,368.8 1043.5,368.6 1043,368.4 1042.2,368.1 1041.5,367.9 1041.9,367.7 1040.6,367.5 1040.6,367.2 1042.5,367 1043.7,366.8 1042,366.5 1041.5,366.3 1041.3,366.1 1041.6,365.9 1043,365.6 1041.6,365.4 1043.6,365.2 1040.5,364.9 1041.1,364.7 1041.9,364.5 1041.5,364.3 1043.2,364 1043.1,363.8 1043.5,363.6 1042.2,363.4 1040,363.1 1042.1,362.9 1042,362.7 1041.8,362.4 1041,362.2 1042.6,362 1043.4,361.8 1040.3,361.5 1042.4,361.3 1041.3,361.1 1041.9,360.9 1043.3,360.6 1043.5,360.4 1042.3,360.2 1040.6,359.9 1043.4,359.7 1040.6,359.5 1041.4,359.3 1043,359 1041.1,358.8 1040.9,358.6 1043.5,358.3 1043.5,358.1 1041.1,357.9 1041.4,357.7 1041,357.4 1040.4,357.2 1040.8,357 1043.6,356.8 1040.2,356.5 1040.8,356.3 1040.7,356.1 1040.2,355.8 1041.9,355.6 1042.7,355.4 1043,355.2 1042.3,354.9 1043,354.7 1039.9,354.5 1041,354.3 1043.5,354 1040.2,353.8 1040.9,353.6 1041.7,353.3 1040.9,353.1 1041.9,352.9 1040.1,352.7 1040.8,352.4 1043.5,352.2 1040.4,352 1043.3,351.7 1040.6,351.5 1043.6,351.3 1042.4,351.1 1042.3,350.8 1040.4,350.6 1040.1,350.4 1042.7,350.2 1040.6,349.9 1040.6,349.7 1042.9,349.5 1043.1,349.2 1040.1,349 1043.5,348.8 1041.9,348.6 1041.3,348.3 1040.3,348.1 1041.3,347.9 1043.5,347.7 1040.9,347.4 1040.4,347.2 1040.4,347 1040.4,346.7 1041.2,346.5 1043.3,346.3 1040.2,346.1 1040.6,345.8 1043.3,345.6 1043.6,345.4 1043.5,345.1 1040.8,344.9 1041.2,344.7 1043.4,344.5 1041.7,344.2 1042.5,344 1041,343.8 1040,343.6 1041.2,343.3 1042.6,343.1 1042.8,342.9 1042,342.6 1041.6,342.4 1041.9,342.2 1041.5,342 1041.8,341.7 1042.9,341.5 1040.6,341.3 1042.1,341.1 1043.3,340.8 1043,340.6 1040.6,340.4 1043.4,340.1 1042.9,339.9 1040.5,339.7 1040.9,339.5 1040.6,339.2 1040.1,339 1043.4,338.8 1041.4,338.5 1043.1,338.3 1040.3,338.1 1040,337.9 1043,337.6 1042.8,337.4 1043.5,337.2 1042.4,337 1041.8,336.7 1042.7,336.5 1040.2,336.3 1041.8,336 1041.5,335.8 1040.4,335.6 1042.1,335.4 1041.1,335.1 1041.7,334.9 1041.2,334.7 1041,334.5 1041.2,334.2 1042.1,334 1043.4,333.8 1043.3,333.5 1043,333.3 1042.9,333.1 1040.9,332.9 1043.4,332.6 1040.9,332.4 1040.3,332.2 1041.7,331.9 1042.5,331.7 1041.1,331.5 1042.2,331.3 1040.9,331 1043.3,330.8 1041.5,330.6 1041.6,330.4 1041.8,330.1 1043,329.9 1043.4,329.7 1041.8,329.4 1041.5,329.2 1042.1,329 1040.1,328.8 1041.4,328.5 1042.9,328.3 1042.7,328.1 1040.1,327.8 1042.9,327.6 1041.3,327.4 1043.4,327.2 1041.2,326.9 1040.7,326.7 1041.8,326.5 1043,326.3 1041.4,326 1043,325.8 1042.4,325.6 1041.2,325.3 1041,325.1 1041.7,324.9 1041.3,324.7 1041.2,324.4 1042.2,324.2 1043,324 1041.9,323.8 1040.4,323.5 1040.7,323.3 1041.2,323.1 1042.1,322.8 1040.4,322.6 1040.2,322.4 1041,322.2 1040.9,321.9 1040,321.7 1041.8,321.5 1043.1,321.2 1041.8,321 1042.5,320.8 1042.8,320.6 1042.8,320.3 1043.1,320.1 1041.4,319.9 1042.3,319.7 1040.3,319.4 1043,319.2 1041.2,319 1041.6,318.7 1043,318.5 1040.9,318.3 1040.6,318.1 1042.8,317.8 1042,317.6 1040.2,317.4 1040,317.2 1041.1,316.9 1039.9,316.7 1042.8,316.5 1040.5,316.2 1040.8,316 1041.2,315.8 1041.7,315.6 1041.4,315.3 1042.1,315.1 1042.2,314.9 1041.4,314.6 1040.2,314.4 1043.3,314.2 1042.3,314 1040.2,313.7 1041.4,313.5 1042.5,313.3 1043.3,313.1 1040.1,312.8 1039.9,312.6 1041.5,312.4 1041.3,312.1 1043,311.9 1042.7,311.7 1041,311.5 1041.3,311.2 1041.9,311 1042.9,310.8 1040.6,310.6 1041.2,310.3 1040.2,310.1 1042.1,309.9 1040,309.6 1043.1,309.4 1041.7,309.2 1041.9,309 1040.2,308.7 1040.7,308.5 1041.5,308.3 1042.8,308 1041.7,307.8 1040.9,307.6 1043.2,307.4 1042.1,307.1 1041.7,306.9 1040.6,306.7 1040.9,306.5 1042.9,306.2 1040.3,306 1041.7,305.8 1042,305.5 1041.1,305.3 1042.5,305.1 1043,304.9 1042.8,304.6 1042.4,304.4 1040.6,304.2 1040.1,304 1041.4,303.7 1041,303.5 1040.6,303.3 1042.8,303 1040.6,302.8 1042.7,302.6 1043,302.4 1040.3,302.1 1043,301.9 1041.2,301.7 1040.6,301.4 1040.5,301.2 1040,301 1041.6,300.8 1041.2,300.5 1042.7,300.3 1042.7,300.1 1040.1,299.9 1041.2,299.6 1041.2,299.4 1040.5,299.2 1040.7,298.9 1040.8,298.7 1042.2,298.5 1041,298.3 1040.3,298 1040.6,297.8 1041.4,297.6 1041.8,297.4 1040.7,297.1 1042.2,296.9 1040.6,296.7 1042.1,296.4 1041.9,296.2 1040.5,296 1042.4,295.8 1041.2,295.5 1041.7,295.3 1041.9,295.1 1042,294.8 1041.4,294.6 1040.1,294.4 1042.5,294.2 1042.7,293.9 1041.5,293.7 1041.8,293.5 1040.8,293.3 1042.9,293 1042.2,292.8 1040.6,292.6 1042.6,292.3 1043.1,292.1 1041,291.9 1043.2,291.7 1041.5,291.4 1040.5,291.2 1042.3,291 1041,290.8 1042.3,290.5 1041.8,290.3 1040.3,290.1 1041.6,289.8 1042.7,289.6 1041.5,289.4 1041.7,289.2 1042.7,288.9 1041.4,288.7 1041.5,288.5 1041.8,288.2 1042.6,288 1040.6,287.8 1040.2,287.6 1042.4,287.3 1041.7,287.1 1040.9,286.9 1042.8,286.7 1042.8,286.4 1041.7,286.2 1043.1,286 1042.6,285.7 1042.3,285.5 1040.8,285.3 1039.9,285.1 1042.1,284.8 1042.3,284.6 1041,284.4 1041.5,284.2 1041.7,283.9 1040.7,283.7 1042.2,283.5 1041.7,283.2 1041.1,283 1040.3,282.8 1041.7,282.6 1040.9,282.3 1042.2,282.1 1040.5,281.9 1041.2,281.6 1040.5,281.4 1041.2,281.2 1041.8,281 1040.2,280.7 1040.1,280.5 1041.5,280.3 1040.5,280.1 1041.5,279.8 1040.4,279.6 1040.2,279.4 1041.6,279.1 1042.9,278.9 1042.7,278.7 1041.6,278.5 1041.2,278.2 1040.1,278 1040.8,277.8 1040.9,277.6 1042.9,277.3 1040.3,277.1 1042.9,276.9 1041.4,276.6 1041.3,276.4 1040.7,276.2 1043,276 1040.5,275.7 1041.7,275.5 1041.5,275.3 1040.5,275 1040.6,274.8 1043,274.6 1042.4,274.4 1042.2,274.1 1042.8,273.9 1040.2,273.7 1042.1,273.5 1042.3,273.2 1040.6,273 1041.4,272.8 1043,272.5 1040.9,272.3 1042.3,272.1 1040.4,271.9 1042,271.6 1040.8,271.4 1041.5,271.2 1041.1,270.9 1042.7,270.7 1042.3,270.5 1041.5,270.3 1042.1,270 1041.2,269.8 1042.4,269.6 1040.7,269.4 1041.6,269.1 1041.7,268.9 1041.1,268.7 1040,268.4 1040.4,268.2 1041.9,268 1040.6,267.8 1042.3,267.5 1041.5,267.3 1042.9,267.1 1042.6,266.9 1042.2,266.6 1041.1,266.4 1040,266.2 1041.6,265.9 1042.2,265.7 1042.8,265.5 1040.5,265.3 1040.4,265 1043,264.8 1042.2,264.6 1041.4,264.3 1042.2,264.1 1040.4,263.9 1041.6,263.7 1042,263.4 1041.8,263.2 1040.4,263 1040.3,262.8 1041.8,262.5 1042.7,262.3 1040.3,262.1 1039.9,261.8 1040.2,261.6 1042.3,261.4 1041.1,261.2 1041.3,260.9 1043,260.7 1041.8,260.5 1040.7,260.3 1042.1,260 1039.9,259.8 1040.8,259.6 1042.1,259.3 1040.4,259.1 1040,258.9 1041.5,258.7 1040.9,258.4 1042.9,258.2 1040.2,258 1042.4,257.7 1041.1,257.5 1042.4,257.3 1041.3,257.1 1042,256.8 1040.9,256.6 1040.6,256.4 1041.3,256.2 1042.4,255.9 1041,255.7 1040.6,255.5 1041.2,255.2 1040.2,255 1040.9,254.8 1041.7,254.6 1041.6,254.3 1041.7,254.1 1040.8,253.9 1040,253.7 1040,253.4 1040.9,253.2 1040.5,253 1041.6,252.7 1040.7,252.5 1042.2,252.3 1041.7,252.1 1041.9,251.8 1042.1,251.6 1041.5,251.4 1041.2,251.1 1040.8,250.9 1040.1,250.7 1042.3,250.5 1041.4,250.2 1040.2,250 1042.7,249.8 1041.7,249.6 1041.8,249.3 1041.2,249.1 1040.3,248.9 1042.9,248.6 1040.4,248.4 1041,248.2 1042.9,248 1040.3,247.7 1041.4,247.5 1041.4,247.3 1040.7,247.1 1042.7,246.8 1041.2,246.6 1039.9,246.4 1041.3,246.1 1039.9,245.9 1042,245.7 1042.5,245.5 1042.6,245.2 1040,245 1041.9,244.8 1040.8,244.5 1041.3,244.3 1040.8,244.1 1040.8,243.9 1040.3,243.6 1041.8,243.4 1040.2,243.2 1042.8,243 1040,242.7 1042.8,242.5 1040.5,242.3 1040.2,242 1042.1,241.8 1041.5,241.6 1042.2,241.4 1041.4,241.1 1041.8,240.9 1040.1,240.7 1041.9,240.5 1041.4,240.2 1042.8,240 1039.9,239.8 1040.1,239.5 1041.9,239.3 1042.7,239.1 1041.2,238.9 1042,238.6 1041.6,238.4 1041.1,238.2 1041.3,237.9 1041.7,237.7 1040,237.5 1040.8,237.3 1042.1,237 1040.7,236.8 1041.3,236.6 1040.7,236.4 1041,236.1 1041.8,235.9 1042.1,235.7 1042.7,235.4 1041.3,235.2 1040.5,235 1040.9,234.8 1040.1,234.5 1040.6,234.3 1041.6,234.1 1041.7,233.9 1040.6,233.6 1040.4,233.4 1040.2,233.2 1040.4,232.9 1041.4,232.7 1040.7,232.5 1042.5,232.3 1041.6,232 1040.9,231.8 1041.2,231.6 1040,231.3 1042.1,231.1 1042.1,230.9 1041,230.7 1042,230.4 1040.7,230.2 1040.5,230 1040.6,229.8 1040.5,229.5 1041.7,229.3 1041.8,229.1 1042,228.8 1040.2,228.6 1042.1,228.4 1041.3,228.2 1041,227.9 1041.4,227.7 1041.2,227.5 1040.5,227.3 1041.1,227 1041.8,226.8 1042,226.6 1042.6,226.3 1040.5,226.1 1042.5,225.9 1042.2,225.7 1042,225.4 1042.8,225.2 1040.3,225 1042.2,224.7 1042.5,224.5 1040.3,224.3 1041.6,224.1 1042.7,223.8 1040.8,223.6 1042.4,223.4 1042.5,223.2 1041.2,222.9 1040.3,222.7 1040.5,222.5 1042.3,222.2 1041.1,222 1040.8,221.8 1041.2,221.6 1042.6,221.3 1040.6,221.1 1040,220.9 1042.6,220.7 1040.8,220.4 1041,220.2 1042.7,220 1040.7,219.7 1040.1,219.5 1042.5,219.3 1040.6,219.1 1040.5,218.8 1042.6,218.6 1040.6,218.4 1042.5,218.1 1040.9,217.9 1040.8,217.7 1040.5,217.5 1041.5,217.2 1041.5,217 1041,216.8 1041.4,216.6 1040.8,216.3 1042.3,216.1 1042.6,215.9 1042.1,215.6 1042.3,215.4 1040.1,215.2 1040.6,215 1040.5,214.7 1040.3,214.5 1042.7,214.3 1042.5,214 1042.5,213.8 1041.5,213.6 1040.2,213.4 1041.1,213.1 1040.1,212.9 1042.5,212.7 1040.7,212.5 1040.7,212.2 1042.6,212 1040.5,211.8 1042.5,211.5 1040.8,211.3 1041.8,211.1 1040.2,210.9 1042.5,210.6 1041,210.4 1040.9,210.2 1041.8,210 1041.6,209.7 1040.6,209.5 1040.3,209.3 1041.5,209 1040,208.8 1042.4,208.6 1040.9,208.4 1040.4,208.1 1040.8,207.9 1040.2,207.7 1040.8,207.4 1041.4,207.2 1041.1,207 1040.8,206.8 1040.7,206.5 1041.3,206.3 1042.1,206.1 1041.1,205.9 1042.1,205.6 1041.3,205.4 1040.2,205.2 1040.4,204.9 1042.3,204.7 1041.2,204.5 1041,204.3 1041.4,204 1042.3,203.8 1041,203.6 1040.9,203.4 1040.9,203.1 1039.9,202.9 1041.4,202.7 1041.2,202.4 1041.3,202.2 1041.2,202 1041.2,201.8 1041.9,201.5 1040.4,201.3 1042.6,201.1 1040.2,200.8 1042.3,200.6 1040.4,200.4 1042.1,200.2 1040.6,199.9 1040.1,199.7 1041.4,199.5 1042.2,199.3 1042.3,199 1042.3,198.8 1042.6,198.6 1040,198.3 1041,198.1 1040.2,197.9 1042,197.7 1041.2,197.4 1042,197.2 1042.1,197 1042.7,196.8 1041.8,196.5 1042.3,196.3 1041.4,196.1 1040.1,195.8 1042.4,195.6 1040.2,195.4 1040.1,195.2 1042.2,194.9 1040.7,194.7 1041.7,194.5 1040,194.2 1040.5,194 1041.9,193.8 1040,193.6 1041.3,193.3 1042.5,193.1 1040.5,192.9 1041.8,192.7 1042,192.4 1041.6,192.2 1042,192 1041.8,191.7 1039.9,191.5 1040.4,191.3 1041.4,191.1 1042.6,190.8 1040.5,190.6 1041.5,190.4 1040.3,190.2 1042.2,189.9 1041.1,189.7 1041.3,189.5 1041.7,189.2 1040.3,189 1041.9,188.8 1042.1,188.6 1042.3,188.3 1040.7,188.1 1040.5,187.9 1040.4,187.6 1042.4,187.4 1041.1,187.2 1041,187 1041.3,186.7 1041.8,186.5 1040.8,186.3 1040.8,186.1 1042,185.8 1042,185.6 1040.7,185.4 1040.1,185.1 1042.4,184.9 1041.9,184.7 1041.5,184.5 1041,184.2 1042.5,184 1041.1,183.8 1040.5,183.6 1040.2,183.3 1040.9,183.1 1041.5,182.9 1040.9,182.6 1042.5,182.4 1041.7,182.2 1041.1,182 1041.7,181.7 1041.5,181.5 1041.6,181.3 1041.2,181 1041.3,180.8 1041.2,180.6 1042.2,180.4 1040.4,180.1 1042,179.9 1040.7,179.7 1042.2,179.5 1040.1,179.2 1041.2,179 1041.1,178.8 1041.8,178.5 1040.4,178.3 1040.6,178.1 1040.3,177.9 1041.4,177.6 1041.5,177.4 1039.9,177.2 1040.4,177 1040.4,176.7 1042.5,176.5 1041.1,176.3 1041.4,176 1040.7,175.8 1041.7,175.6 1042.1,175.4 1041.7,175.1 1039.9,174.9 1041.1,174.7 1041.2,174.4 1040,174.2 1042,174 1040.8,173.8 1040.7,173.5 1041.6,173.3 1041.5,173.1 1041.2,172.9 1042.2,172.6 1041.3,172.4 1040.8,172.2 1040.1,171.9 1041.4,171.7 1040.9,171.5 1041.3,171.3 1040.8,171 1039.9,170.8 1040,170.6 1040.3,170.4 1040.2,170.1 1042.2,169.9 1041.4,169.7 1040.5,169.4 1041.8,169.2 1041.6,169 1040.1,168.8 1041.9,168.5 1040.5,168.3 1042.5,168.1 1040.3,167.8 1040.7,167.6 1040.6,167.4 1042.2,167.2 1042.1,166.9 1041.4,166.7 1040.3,166.5 1041,166.3 1041.8,166 1040.1,165.8 1042.3,165.6 1042.1,165.3 1042.4,165.1 1041.7,164.9 1041.5,164.7 1042.5,164.4 1040.6,164.2 1040.7,164 1040.2,163.8 1040.4,163.5 1042,163.3 1040.2,163.1 1041.9,162.8 1040.9,162.6 1042.2,162.4 1041.9,162.2 1041.7,161.9 1042.1,161.7 1040,161.5 1040.6,161.2 1040.9,161 1041,160.8 1041.7,160.6 1042.2,160.3 1041.8,160.1 1042.3,159.9 1041.7,159.7 1040.8,159.4 1041.2,159.2 1041.9,159 1042,158.7 1040.9,158.5 1040.8,158.3 1041.5,158.1 1040.5,157.8 1042.2,157.6 1039.9,157.4 1041.6,157.1 1041.2,156.9 1040.4,156.7 1041.4,156.5 1041.1,156.2 1042.4,156 1042.2,155.8 1041.4,155.6 1042.2,155.3 1042.2,155.1 1040.3,154.9 1042.1,154.6 1042.1,154.4 1042.5,154.2 1041.9,154 1040.9,153.7 1040.4,153.5 1041.6,153.3 1040.4,153.1 1041.9,152.8 1041.4,152.6 1042,152.4 1040.8,152.1 1040.7,151.9 1042.2,151.7 1041.6,151.5 1040.9,151.2 1041.4,151 1041,150.8 1041.6,150.5 1041.2,150.3 1040.6,150.1 1042.4,149.9 1042.2,149.6 1041.9,149.4 1040.6,149.2 1040.4,149 1041.8,148.7 1042,148.5 1041.6,148.3 1040.4,148 1041.8,147.8 1041.2,147.6 1040.9,147.4 1041.4,147.1 1041.1,146.9 1041.6,146.7 1041.8,146.5 1042.4,146.2 1040.2,146 1041.4,145.8 1042.3,145.5 1041.6,145.3 1041.4,145.1 1042.1,144.9 1040,144.6 1041.9,144.4 1041.5,144.2 1041.4,143.9 1040.7,143.7 1041.5,143.5 1040.2,143.3 1041.2,143 1040.6,142.8 1042.3,142.6 1042,142.4 1041.1,142.1 1041.8,141.9 1040.9,141.7 1041.2,141.4 1040.3,141.2 1042.1,141 1041.8,140.8 1041.8,140.5 1040.1,140.3 1042,140.1 1039.9,139.9 1041.3,139.6 1041.1,139.4 1040.1,139.2 1041,138.9 1042.2,138.7 1041.5,138.5 1040.7,138.3 1042,138 1040.8,137.8 1042.2,137.6 1040.9,137.3 1040.1,137.1 1042.4,136.9 1040.1,136.7 1040.5,136.4 1041.9,136.2 1040.2,136 1041.3,135.8 1042.1,135.5 1041.4,135.3 1040.8,135.1 1041.8,134.8 1042,134.6 1041.4,134.4 1041.5,134.2 1040.7,133.9 1040.9,133.7 1042.4,133.5 1042.3,133.3 1039.9,133 1040.4,132.8 1040.5,132.6 1041.9,132.3 1040.4,132.1 1040.3,131.9 1041.8,131.7 1040.3,131.4 1042.4,131.2 1041,131 1042.2,130.7 1042,130.5 1040.4,130.3 1041.9,130.1 1040.9,129.8 1040.5,129.6 1040,129.4 1041.7,129.2 1041.3,128.9 1040.7,128.7 1042,128.5 1040.4,128.2 1041,128 1040.1,127.8 1040.8,127.6 1042.1,127.3 1041.1,127.1 1040.3,126.9 1040.5,126.7 1041.5,126.4 1040.6,126.2 1042.1,126 1040.1,125.7 1042.1,125.5 1041.4,125.3 1041.9,125.1 1040.8,124.8 1040.1,124.6 1040.3,124.4 1041.5,124.1 1040,123.9 1040.2,123.7 1041.8,123.5 1042.1,123.2 1042,123 1042,122.8 1041.3,122.6 1042.1,122.3 1041.6,122.1 1041.3,121.9 1041,121.6 1040,121.4 1040.1,121.2 1040.5,121 1041,120.7 1040.2,120.5 1042.3,120.3 1041.3,120.1 1041.7,119.8 1042.1,119.6 1040.5,119.4 1042.1,119.1 1042.3,118.9 1040.6,118.7 1040.2,118.5 1041.9,118.2 1042.1,118 1041.9,117.8 1040.9,117.5 1041.4,117.3 1040.2,117.1 1040.5,116.9 1040.9,116.6 1041.7,116.4 1040.1,116.2 1042.2,116 1040,115.7 1042.3,115.5 1040.5,115.3 1041.9,115 1041.9,114.8 1042.2,114.6 1041.1,114.4 1041.6,114.1 1040.6,113.9 1041.9,113.7 1040.2,113.5 1042.1,113.2 1041.3,113 1040.1,112.8 1042.2,112.5 1040.7,112.3 1040.1,112.1 1040.5,111.9 1040,111.6 1040.6,111.4 1041.6,111.2 1042.3,110.9 1041.4,110.7 1042,110.5 1041.9,110.3 1041.6,110 1040.8,109.8 1040.5,109.6 1040.3,109.4 1041.2,109.1 1040.4,108.9 1041.7,108.7 1040.7,108.4 1041.3,108.2 1041.2,108 1041.4,107.8 1040.3,107.5 1040.5,107.3 1041.6,107.1 1040.4,106.9 1041.5,106.6 1042.2,106.4 1040.8,106.2 1042.2,105.9 1041.4,105.7 1042.2,105.5 1041.2,105.3 1041.7,105 1041.5,104.8 1040.4,104.6 1041.2,104.3 1041.3,104.1 1041,103.9 1041.5,103.7 1042.1,103.4 1041.8,103.2 1041.9,103 1040.2,102.8 1041.6,102.5 1041.4,102.3 1042.2,102.1 1039.9,101.8 1040.3,101.6 1042.2,101.4 1040.8,101.2 1041.6,100.9 1041.3,100.7 1040.9,100.5 1041,100.2 1041.2,100 1042.3,99.8 1041.2,99.6 1041.8,99.3 1040.6,99.1 1041.6,98.9 1041.3,98.7 1041.7,98.4 1042,98.2 1040.1,98 1042.2,97.7 1041.4,97.5 1040.5,97.3 1041,97.1 1040.1,96.8 1040.5,96.6 1041.9,96.4 1041.6,96.2 1042,95.9 1040.3,95.7 1040.2,95.5 1040.8,95.2 1041.1,95 1041.6,94.8 1040.6,94.6 1041.7,94.3 1041.3,94.1 1040.6,93.9 1041.8,93.6 1040.1,93.4 1041.3,93.2 1040.3,93 1040,92.7 1041,92.5 1041.1,92.3 1041.4,92.1 1040.8,91.8 1042.1,91.6 1041.8,91.4 1040.3,91.1 1039.9,90.9 1042.2,90.7 1040.9,90.5 1040.1,90.2 1040.3,90 1041.6,89.8 1040.3,89.6 1040.8,89.3 1041.5,89.1 1040.7,88.9 1041.4,88.6 1042.1,88.4 1041.8,88.2 1041.4,88 1041.4,87.7 1040.6,87.5 1041.4,87.3 1041.4,87 1041.3,86.8 1041.1,86.6 1041.7,86.4 1040.4,86.1 1041.6,85.9 1042.2,85.7 1040,85.5 1040.5,85.2 1042.2,85 1040.1,84.8 1041.8,84.5 1041.3,84.3 1040.1,84.1 1041.4,83.9 1039.9,83.6 1041.9,83.4 1040.6,83.2 1042.1,83 1042,82.7 1040.2,82.5 1040.8,82.3 1040.3,82 1041.7,81.8 1040.1,81.6 1040.1,81.4 1040.2,81.1 1041.9,80.9 1040.5,80.7 1040.7,80.4 1040.9,80.2 1041.2,80 1040.9,79.8 1042.1,79.5 1040.7,79.3 1041,79.1 1041.9,78.9 1040.5,78.6 1040.3,78.4 1041.8,78.2 1040.6,77.9 1042,77.7 1041.8,77.5 1040.8,77.3 1040.7,77 1040.1,76.8 1041.9,76.6 1040.9,76.4 1040.7,76.1 1040.3,75.9 1040.4,75.7 1041.9,75.4 1040.2,75.2 1041.2,75 1041.3,74.8 1041.1,74.5 1041.1,74.3 1040.8,74.1 1040.3,73.8 1041.8,73.6 1042,73.4 1041.2,73.2 1040.5,72.9 1042,72.7 1040.4,72.5 1040.3,72.3 1041.3,72 1041.8,71.8 1041.2,71.6 1040.2,71.3 1042.2,71.1 1040.3,70.9 1040.7,70.7 1042.2,70.4 1041.7,70.2 1041.6,70 1040.1,69.8 1041.9,69.5 1040.8,69.3 1039.9,69.1 1041.7,68.8 1042,68.6 1040,68.4 1040.9,68.2 1042,67.9 1040.7,67.7" fill="none" stroke="#0000ff" stroke-width="1.5" stroke-linejoin="round"/></g>
<text x="1039.9" y="568.2" font-size="28.7" text-anchor="middle">0</text>
<text x="1156.2" y="568.2" font-size="28.7" text-anchor="middle">200</text>
<text x="1273.5" y="568.2" font-size="28.7" text-anchor="middle">400</text>
<text x="1171.6" y="45.8" font-size="28.0" text-anchor="middle" textLength="195.5" lengthAdjust="spacingAndGlyphs">Energy Spectrum</text>
<text transform="translate(949.8 308.4) rotate(-90)" font-size="28.0" text-anchor="middle" textLength="168.4" lengthAdjust="spacingAndGlyphs">Frequency(Hz)</text>
<path d="M1034 79.1A8 8 0 0 1 1042 71.1H1060.2A8 8 0 0 1 1068.2 79.1V488.2A8 8 0 0 1 1060.2 496.2H1042A8 8 0 0 1 1034 488.2Z" fill="none" stroke="#ff0000" stroke-width="3.0" stroke-dasharray="11.6 8.77" stroke-dashoffset="1.0"/>
<rect x="1139.2" y="442.3" width="105.6" height="73.9" fill="#ffffee" stroke="#cfcfc4" stroke-width="1"/>
<text x="1150.6" y="474.5" font-size="22.0" textLength="78.0" lengthAdjust="spacingAndGlyphs">X: 361.3</text>
<text x="1150.6" y="500.4" font-size="22.0" textLength="69.5" lengthAdjust="spacingAndGlyphs">Y: 26.4</text>
<rect x="1237.5" y="514.1" width="27.8" height="27.3" fill="#ffffe0"/>
<rect x="1243.5" y="519.7" width="16.6" height="15.9" fill="#000"/>
<text class="cap" x="384.6" y="701" textLength="39.6" lengthAdjust="spacingAndGlyphs">(<tspan font-weight="bold">a</tspan>)</text>
<text class="cap" x="437.2" y="701" textLength="302" lengthAdjust="spacingAndGlyphs">The original signal</text>
<clipPath id="cpb"><rect x="135.2" y="808.2" width="647.6" height="443.2"/></clipPath>
<rect x="135.2" y="808.2" width="647.6" height="443.2" fill="#00008f"/>
<g clip-path="url(#cpb)"><g filter="url(#jetb)">
<rect x="135.2" y="1111.1" width="427.4" height="140.3" fill="#000"/>
<ellipse cx="165.3" cy="1235.5" rx="19.4" ry="36.7" fill="url(#gg)" opacity="0.059"/>
<ellipse cx="200.8" cy="1235.5" rx="19.4" ry="38.9" fill="url(#gg)" opacity="0.063"/>
<ellipse cx="239.6" cy="1235.5" rx="19.4" ry="41.1" fill="url(#gg)" opacity="0.072"/>
<ellipse cx="275.1" cy="1235.5" rx="16.8" ry="38.9" fill="url(#gg)" opacity="0.063"/>
<ellipse cx="313.9" cy="1237.6" rx="19.4" ry="36.7" fill="url(#gg)" opacity="0.063"/>
<ellipse cx="355.8" cy="1237.6" rx="19.4" ry="36.7" fill="url(#gg)" opacity="0.063"/>
<ellipse cx="394.6" cy="1237.6" rx="19.4" ry="36.7" fill="url(#gg)" opacity="0.054"/>
<ellipse cx="426.9" cy="1237.6" rx="19.4" ry="32.4" fill="url(#gg)" opacity="0.032"/>
<ellipse cx="156.4" cy="1200.9" rx="3.2" ry="32.4" fill="url(#gg)" opacity="0.014"/>
<ellipse cx="175.7" cy="1198.7" rx="3.2" ry="36.7" fill="url(#gg)" opacity="0.023"/>
<ellipse cx="205.5" cy="1196.6" rx="3.9" ry="49.7" fill="url(#gg)" opacity="0.028"/>
<ellipse cx="205.5" cy="1157.7" rx="2.6" ry="32.4" fill="url(#gg)" opacity="0.012"/>
<ellipse cx="255.7" cy="1196.6" rx="3.2" ry="38.9" fill="url(#gg)" opacity="0.023"/>
<ellipse cx="248" cy="1204.1" rx="3.2" ry="25.9" fill="url(#gg)" opacity="0.018"/>
<ellipse cx="283.5" cy="1203.1" rx="3.2" ry="25.9" fill="url(#gg)" opacity="0.014"/>
<ellipse cx="323.5" cy="1200.9" rx="3.2" ry="32.4" fill="url(#gg)" opacity="0.016"/>
<ellipse cx="347.6" cy="1200.9" rx="3.2" ry="32.4" fill="url(#gg)" opacity="0.018"/>
<ellipse cx="378.6" cy="1198.7" rx="3.9" ry="36.7" fill="url(#gg)" opacity="0.023"/>
<ellipse cx="406.9" cy="1205.2" rx="3.2" ry="23.8" fill="url(#gg)" opacity="0.012"/>
<ellipse cx="156.4" cy="1235.9" rx="5.8" ry="21.6" fill="url(#gp)" opacity="0.148"/>
<ellipse cx="156.4" cy="1228.1" rx="3.2" ry="20.5" fill="url(#gg)" opacity="0.029"/>
<ellipse cx="156.4" cy="1244.7" rx="6.7" ry="13" fill="url(#gg)" opacity="0.022"/>
<ellipse cx="175.7" cy="1235.5" rx="6.4" ry="20.5" fill="url(#gp)" opacity="0.306"/>
<ellipse cx="175.7" cy="1228.1" rx="3.5" ry="19.5" fill="url(#gg)" opacity="0.064"/>
<ellipse cx="175.7" cy="1244.5" rx="7.3" ry="12.3" fill="url(#gg)" opacity="0.049"/>
<ellipse cx="185.9" cy="1238.7" rx="4.8" ry="22.7" fill="url(#gp)" opacity="0.246"/>
<ellipse cx="185.9" cy="1230.5" rx="2.6" ry="21.6" fill="url(#gg)" opacity="0.050"/>
<ellipse cx="185.9" cy="1245.8" rx="5.5" ry="13.6" fill="url(#gg)" opacity="0.038"/>
<ellipse cx="205.5" cy="1241.1" rx="8.2" ry="24.6" fill="url(#gp)" opacity="0.401"/>
<ellipse cx="205.5" cy="1232.2" rx="4.5" ry="23.4" fill="url(#gg)" opacity="0.089"/>
<ellipse cx="205.5" cy="1246.8" rx="9.4" ry="14.8" fill="url(#gg)" opacity="0.067"/>
<ellipse cx="198.9" cy="1244.1" rx="4.8" ry="17.3" fill="url(#gp)" opacity="0.119"/>
<ellipse cx="198.9" cy="1237.9" rx="2.6" ry="16.4" fill="url(#gg)" opacity="0.023"/>
<ellipse cx="198.9" cy="1248" rx="5.5" ry="10.4" fill="url(#gg)" opacity="0.017"/>
<ellipse cx="226" cy="1237.6" rx="6.2" ry="21.6" fill="url(#gp)" opacity="0.221"/>
<ellipse cx="226" cy="1229.9" rx="3.4" ry="20.5" fill="url(#gg)" opacity="0.044"/>
<ellipse cx="226" cy="1245.4" rx="7.1" ry="13" fill="url(#gg)" opacity="0.034"/>
<ellipse cx="234.5" cy="1238.7" rx="5.4" ry="20.5" fill="url(#gp)" opacity="0.175"/>
<ellipse cx="234.5" cy="1231.3" rx="3" ry="19.5" fill="url(#gg)" opacity="0.034"/>
<ellipse cx="234.5" cy="1245.8" rx="6.2" ry="12.3" fill="url(#gg)" opacity="0.026"/>
<ellipse cx="246.5" cy="1240.9" rx="5" ry="29.2" fill="url(#gp)" opacity="0.202" transform="rotate(6.8 246.5 1240.9)"/>
<ellipse cx="246.5" cy="1230.4" rx="2.8" ry="27.7" fill="url(#gg)" opacity="0.040" transform="rotate(6.8 246.5 1230.4)"/>
<ellipse cx="246.5" cy="1246.7" rx="5.8" ry="17.5" fill="url(#gg)" opacity="0.030" transform="rotate(6.8 246.5 1246.7)"/>
<ellipse cx="253" cy="1232.2" rx="3.3" ry="25.9" fill="url(#gp)" opacity="0.175"/>
<ellipse cx="253" cy="1222.9" rx="1.8" ry="24.6" fill="url(#gg)" opacity="0.034"/>
<ellipse cx="253" cy="1243.3" rx="3.7" ry="15.6" fill="url(#gg)" opacity="0.026"/>
<ellipse cx="261.1" cy="1237.6" rx="4.3" ry="29.2" fill="url(#gp)" opacity="0.208" transform="rotate(-2 261.1 1237.6)"/>
<ellipse cx="261.1" cy="1227.1" rx="2.3" ry="27.7" fill="url(#gg)" opacity="0.042" transform="rotate(-2 261.1 1227.1)"/>
<ellipse cx="261.1" cy="1245.4" rx="4.9" ry="17.5" fill="url(#gg)" opacity="0.031" transform="rotate(-2 261.1 1245.4)"/>
<ellipse cx="269.7" cy="1242" rx="5.8" ry="22.7" fill="url(#gp)" opacity="0.240" transform="rotate(-4 269.7 1242)"/>
<ellipse cx="269.7" cy="1233.8" rx="3.2" ry="21.6" fill="url(#gg)" opacity="0.049" transform="rotate(-4 269.7 1233.8)"/>
<ellipse cx="269.7" cy="1247.1" rx="6.7" ry="13.6" fill="url(#gg)" opacity="0.037" transform="rotate(-4 269.7 1247.1)"/>
<ellipse cx="275.1" cy="1243" rx="3.9" ry="17.3" fill="url(#gp)" opacity="0.105"/>
<ellipse cx="275.1" cy="1236.8" rx="2.1" ry="16.4" fill="url(#gg)" opacity="0.020"/>
<ellipse cx="275.1" cy="1247.6" rx="4.5" ry="10.4" fill="url(#gg)" opacity="0.015"/>
<ellipse cx="283.2" cy="1239.8" rx="4.8" ry="21.6" fill="url(#gp)" opacity="0.155"/>
<ellipse cx="283.2" cy="1232" rx="2.6" ry="20.5" fill="url(#gg)" opacity="0.030"/>
<ellipse cx="283.2" cy="1246.3" rx="5.5" ry="13" fill="url(#gg)" opacity="0.023"/>
<ellipse cx="304.8" cy="1245.2" rx="9.7" ry="20.5" fill="url(#gp)" opacity="0.127"/>
<ellipse cx="304.8" cy="1237.8" rx="5.3" ry="19.5" fill="url(#gg)" opacity="0.024"/>
<ellipse cx="304.8" cy="1248.4" rx="11.1" ry="12.3" fill="url(#gg)" opacity="0.018"/>
<ellipse cx="314.3" cy="1245.2" rx="8.5" ry="21.6" fill="url(#gp)" opacity="0.134"/>
<ellipse cx="314.3" cy="1237.4" rx="4.7" ry="20.5" fill="url(#gg)" opacity="0.026"/>
<ellipse cx="314.3" cy="1248.4" rx="9.8" ry="13" fill="url(#gg)" opacity="0.019"/>
<ellipse cx="323.5" cy="1241.5" rx="5.8" ry="23.8" fill="url(#gp)" opacity="0.265"/>
<ellipse cx="323.5" cy="1233" rx="3.2" ry="22.6" fill="url(#gg)" opacity="0.054"/>
<ellipse cx="323.5" cy="1247" rx="6.7" ry="14.3" fill="url(#gg)" opacity="0.041"/>
<ellipse cx="333.9" cy="1240.9" rx="4.3" ry="19.4" fill="url(#gp)" opacity="0.090"/>
<ellipse cx="333.9" cy="1233.9" rx="2.3" ry="18.5" fill="url(#gg)" opacity="0.017"/>
<ellipse cx="333.9" cy="1246.7" rx="4.9" ry="11.7" fill="url(#gg)" opacity="0.013"/>
<ellipse cx="347.6" cy="1240.2" rx="9.5" ry="25.5" fill="url(#gp)" opacity="0.253"/>
<ellipse cx="347.6" cy="1231" rx="5.2" ry="24.2" fill="url(#gg)" opacity="0.052"/>
<ellipse cx="347.6" cy="1246.5" rx="11" ry="15.3" fill="url(#gg)" opacity="0.039"/>
<ellipse cx="378.6" cy="1240.9" rx="9.3" ry="22.7" fill="url(#gp)" opacity="0.294"/>
<ellipse cx="378.6" cy="1232.7" rx="5.1" ry="21.6" fill="url(#gg)" opacity="0.061"/>
<ellipse cx="378.6" cy="1246.7" rx="10.7" ry="13.6" fill="url(#gg)" opacity="0.046"/>
<ellipse cx="390.7" cy="1242" rx="9.3" ry="24.9" fill="url(#gp)" opacity="0.105"/>
<ellipse cx="390.7" cy="1233" rx="5.1" ry="23.6" fill="url(#gg)" opacity="0.020"/>
<ellipse cx="390.7" cy="1247.1" rx="10.7" ry="14.9" fill="url(#gg)" opacity="0.015"/>
<ellipse cx="406.9" cy="1240.9" rx="5.3" ry="24.9" fill="url(#gp)" opacity="0.086"/>
<ellipse cx="406.9" cy="1231.9" rx="2.9" ry="23.6" fill="url(#gg)" opacity="0.016"/>
<ellipse cx="406.9" cy="1246.7" rx="6.1" ry="14.9" fill="url(#gg)" opacity="0.012"/>
<ellipse cx="419.8" cy="1240.9" rx="6.6" ry="24.9" fill="url(#gp)" opacity="0.086"/>
<ellipse cx="419.8" cy="1231.9" rx="3.6" ry="23.6" fill="url(#gg)" opacity="0.016"/>
<ellipse cx="419.8" cy="1246.7" rx="7.6" ry="14.9" fill="url(#gg)" opacity="0.012"/>
<ellipse cx="433.4" cy="1242" rx="6.2" ry="22.7" fill="url(#gp)" opacity="0.048"/>
<ellipse cx="433.4" cy="1233.8" rx="3.4" ry="21.6" fill="url(#gg)" opacity="0.009"/>
<ellipse cx="433.4" cy="1247.1" rx="7.1" ry="13.6" fill="url(#gg)" opacity="0.007"/>
<ellipse cx="445.6" cy="1242" rx="9.3" ry="22.7" fill="url(#gp)" opacity="0.043"/>
<ellipse cx="445.6" cy="1233.8" rx="5.1" ry="21.6" fill="url(#gg)" opacity="0.008"/>
<ellipse cx="445.6" cy="1247.1" rx="10.7" ry="13.6" fill="url(#gg)" opacity="0.006"/>
<ellipse cx="461.1" cy="1243" rx="7.8" ry="20.5" fill="url(#gp)" opacity="0.029"/>
<ellipse cx="461.1" cy="1235.6" rx="4.3" ry="19.5" fill="url(#gg)" opacity="0.005"/>
<ellipse cx="461.1" cy="1247.6" rx="8.9" ry="12.3" fill="url(#gg)" opacity="0.004"/>
<ellipse cx="475.4" cy="1243" rx="7.8" ry="20.5" fill="url(#gp)" opacity="0.019"/>
<ellipse cx="475.4" cy="1235.6" rx="4.3" ry="19.5" fill="url(#gg)" opacity="0.004"/>
<ellipse cx="475.4" cy="1247.6" rx="8.9" ry="12.3" fill="url(#gg)" opacity="0.003"/>
<ellipse cx="527" cy="1246.3" rx="4.7" ry="10.8" fill="url(#gp)" opacity="0.007"/>
<ellipse cx="527" cy="1242.4" rx="2.6" ry="10.3" fill="url(#gg)" opacity="0.001"/>
<ellipse cx="527" cy="1248.9" rx="5.3" ry="6.5" fill="url(#gg)" opacity="0.001"/>
</g>
<polygon points="204.7,1001 205.5,1001 206.4,1043 203.8,1043" fill="url(#stk)" opacity="0.45"/>
</g>
<path d="M265.4 808.2v5.5M265.4 1251.4v-5.5M394.6 808.2v5.5M394.6 1251.4v-5.5M523.8 808.2v5.5M523.8 1251.4v-5.5M653 808.2v5.5M653 1251.4v-5.5M135.2 1248.8h5.5M782.8 1248.8h-5.5M135.2 1141.2h5.5M782.8 1141.2h-5.5M135.2 1033.6h5.5M782.8 1033.6h-5.5M135.2 926h5.5M782.8 926h-5.5M135.2 818.4h5.5M782.8 818.4h-5.5" stroke="#000" stroke-width="1.2" fill="none"/>
<rect x="135.5" y="808.5" width="647" height="442.6" fill="none" stroke="#000" stroke-width="1.35"/>
<rect x="792.2" y="808.20" width="54.4" height="443.20" fill="#800000"/>
<rect x="792.2" y="815.12" width="54.4" height="436.28" fill="#870000"/>
<rect x="792.2" y="822.05" width="54.4" height="429.35" fill="#970000"/>
<rect x="792.2" y="828.98" width="54.4" height="422.43" fill="#a70000"/>
<rect x="792.2" y="835.90" width="54.4" height="415.50" fill="#b70000"/>
<rect x="792.2" y="842.83" width="54.4" height="408.58" fill="#c70000"/>
<rect x="792.2" y="849.75" width="54.4" height="401.65" fill="#d70000"/>
<rect x="792.2" y="856.68" width="54.4" height="394.73" fill="#e70000"/>
<rect x="792.2" y="863.60" width="54.4" height="387.80" fill="#f70000"/>
<rect x="792.2" y="870.53" width="54.4" height="380.88" fill="#ff0800"/>
<rect x="792.2" y="877.45" width="54.4" height="373.95" fill="#ff1800"/>
<rect x="792.2" y="884.38" width="54.4" height="367.03" fill="#ff2800"/>
<rect x="792.2" y="891.30" width="54.4" height="360.10" fill="#ff3800"/>
<rect x="792.2" y="898.23" width="54.4" height="353.18" fill="#ff4800"/>
<rect x="792.2" y="905.15" width="54.4" height="346.25" fill="#ff5800"/>
<rect x="792.2" y="912.08" width="54.4" height="339.33" fill="#ff6800"/>
<rect x="792.2" y="919.00" width="54.4" height="332.40" fill="#ff7800"/>
<rect x="792.2" y="925.93" width="54.4" height="325.48" fill="#ff8700"/>
<rect x="792.2" y="932.85" width="54.4" height="318.55" fill="#ff9700"/>
<rect x="792.2" y="939.78" width="54.4" height="311.63" fill="#ffa700"/>
<rect x="792.2" y="946.70" width="54.4" height="304.70" fill="#ffb700"/>
<rect x="792.2" y="953.62" width="54.4" height="297.78" fill="#ffc700"/>
<rect x="792.2" y="960.55" width="54.4" height="290.85" fill="#ffd700"/>
<rect x="792.2" y="967.48" width="54.4" height="283.93" fill="#ffe700"/>
<rect x="792.2" y="974.40" width="54.4" height="277.00" fill="#fff700"/>
<rect x="792.2" y="981.33" width="54.4" height="270.08" fill="#f7ff08"/>
<rect x="792.2" y="988.25" width="54.4" height="263.15" fill="#e7ff18"/>
<rect x="792.2" y="995.18" width="54.4" height="256.23" fill="#d7ff28"/>
<rect x="792.2" y="1002.10" width="54.4" height="249.30" fill="#c7ff38"/>
<rect x="792.2" y="1009.03" width="54.4" height="242.38" fill="#b7ff48"/>
<rect x="792.2" y="1015.95" width="54.4" height="235.45" fill="#a7ff58"/>
<rect x="792.2" y="1022.88" width="54.4" height="228.53" fill="#97ff68"/>
<rect x="792.2" y="1029.80" width="54.4" height="221.60" fill="#87ff78"/>
<rect x="792.2" y="1036.73" width="54.4" height="214.68" fill="#78ff87"/>
<rect x="792.2" y="1043.65" width="54.4" height="207.75" fill="#68ff97"/>
<rect x="792.2" y="1050.58" width="54.4" height="200.83" fill="#58ffa7"/>
<rect x="792.2" y="1057.50" width="54.4" height="193.90" fill="#48ffb7"/>
<rect x="792.2" y="1064.43" width="54.4" height="186.98" fill="#38ffc7"/>
<rect x="792.2" y="1071.35" width="54.4" height="180.05" fill="#28ffd7"/>
<rect x="792.2" y="1078.28" width="54.4" height="173.13" fill="#18ffe7"/>
<rect x="792.2" y="1085.20" width="54.4" height="166.20" fill="#08fff7"/>
<rect x="792.2" y="1092.12" width="54.4" height="159.28" fill="#00f7ff"/>
<rect x="792.2" y="1099.05" width="54.4" height="152.35" fill="#00e7ff"/>
<rect x="792.2" y="1105.98" width="54.4" height="145.43" fill="#00d7ff"/>
<rect x="792.2" y="1112.90" width="54.4" height="138.50" fill="#00c7ff"/>
<rect x="792.2" y="1119.83" width="54.4" height="131.58" fill="#00b7ff"/>
<rect x="792.2" y="1126.75" width="54.4" height="124.65" fill="#00a7ff"/>
<rect x="792.2" y="1133.68" width="54.4" height="117.73" fill="#0097ff"/>
<rect x="792.2" y="1140.60" width="54.4" height="110.80" fill="#0087ff"/>
<rect x="792.2" y="1147.53" width="54.4" height="103.88" fill="#0078ff"/>
<rect x="792.2" y="1154.45" width="54.4" height="96.95" fill="#0068ff"/>
<rect x="792.2" y="1161.38" width="54.4" height="90.03" fill="#0058ff"/>
<rect x="792.2" y="1168.30" width="54.4" height="83.10" fill="#0048ff"/>
<rect x="792.2" y="1175.23" width="54.4" height="76.18" fill="#0038ff"/>
<rect x="792.2" y="1182.15" width="54.4" height="69.25" fill="#0028ff"/>
<rect x="792.2" y="1189.08" width="54.4" height="62.33" fill="#0018ff"/>
<rect x="792.2" y="1196.00" width="54.4" height="55.40" fill="#0008ff"/>
<rect x="792.2" y="1202.93" width="54.4" height="48.48" fill="#0000f7"/>
<rect x="792.2" y="1209.85" width="54.4" height="41.55" fill="#0000e7"/>
<rect x="792.2" y="1216.78" width="54.4" height="34.62" fill="#0000d7"/>
<rect x="792.2" y="1223.70" width="54.4" height="27.70" fill="#0000c7"/>
<rect x="792.2" y="1230.62" width="54.4" height="20.78" fill="#0000b7"/>
<rect x="792.2" y="1237.55" width="54.4" height="13.85" fill="#0000a7"/>
<rect x="792.2" y="1244.48" width="54.4" height="6.93" fill="#000097"/>
<text x="854.8" y="1192.1" font-size="27.16">20</text>
<text x="854.8" y="1123.2" font-size="27.16">40</text>
<text x="854.8" y="1054.4" font-size="27.16">60</text>
<text x="854.8" y="985.6" font-size="27.16">80</text>
<text x="854.8" y="916.8" font-size="27.16">100</text>
<text x="854.8" y="848" font-size="27.16">120</text>
<path d="M792.2 1182.6h4.5M846.6 1182.6h-4.5M792.2 1113.8h4.5M846.6 1113.8h-4.5M792.2 1044.9h4.5M846.6 1044.9h-4.5M792.2 976.1h4.5M846.6 976.1h-4.5M792.2 907.3h4.5M846.6 907.3h-4.5M792.2 838.5h4.5M846.6 838.5h-4.5" stroke="#000" stroke-width="1.2" fill="none"/>
<rect x="792.5" y="808.5" width="53.8" height="442.6" fill="none" stroke="#000" stroke-width="1.35"/>
<text x="127.1" y="1259.18" font-size="27.16" text-anchor="end">0</text>
<text x="122.9" y="1151.46" font-size="27.16" text-anchor="end">500</text>
<text x="122.9" y="1043.73" font-size="27.16" text-anchor="end">1000</text>
<text x="122.9" y="936.01" font-size="27.16" text-anchor="end">1500</text>
<text x="122.9" y="828.28" font-size="27.16" text-anchor="end">2000</text>
<text x="135.2" y="1283.7" font-size="27.16" text-anchor="middle">0</text>
<text x="263.9" y="1283.7" font-size="27.16" text-anchor="middle">0.2</text>
<text x="393.1" y="1283.7" font-size="27.16" text-anchor="middle">0.4</text>
<text x="522.3" y="1283.7" font-size="27.16" text-anchor="middle">0.6</text>
<text x="651.5" y="1283.7" font-size="27.16" text-anchor="middle">0.8</text>
<text x="456.3" y="1314.3" font-size="26.5" text-anchor="middle">Time(s)</text>
<text x="440.5" y="787.8" font-size="26.5" text-anchor="middle" textLength="340.9" lengthAdjust="spacingAndGlyphs">Time Frequency Representation</text>
<text transform="translate(51.6 1036.7) rotate(-90)" font-size="26.5" text-anchor="middle" textLength="158.6" lengthAdjust="spacingAndGlyphs">Frequency(Hz)</text>
<path d="M146 1158A7.55 7.55 0 0 1 153.6 1150.4H424.8A7.55 7.55 0 0 1 432.3 1158V1186A7.55 7.55 0 0 1 424.8 1193.6H153.6A7.55 7.55 0 0 1 146 1186Z" fill="none" stroke="#ff0000" stroke-width="2.85" stroke-dasharray="10.95 8.3" stroke-dashoffset="0"/>
<path d="M188 994.5A7.55 7.55 0 0 1 195.6 987H212.8A7.55 7.55 0 0 1 220.3 994.5V1058.4A7.55 7.55 0 0 1 212.8 1065.9H195.6A7.55 7.55 0 0 1 188 1058.4Z" fill="none" stroke="#ff0000" stroke-width="2.85" stroke-dasharray="10.95 8.27" stroke-dashoffset="0"/>
<clipPath id="ceb"><rect x="990.4" y="808.2" width="242.2" height="443.2"/></clipPath>
<text x="981.7" y="1261.18" font-size="27.16" text-anchor="end">0</text>
<text x="977.9" y="1152.83" font-size="27.16" text-anchor="end">500</text>
<text x="977.9" y="1044.48" font-size="27.16" text-anchor="end">1000</text>
<text x="977.9" y="936.13" font-size="27.16" text-anchor="end">1500</text>
<text x="977.9" y="827.78" font-size="27.16" text-anchor="end">2000</text>
<path d="M1103.4 808.2v4M1103.4 1251.4v-4M1215.9 808.2v4M1215.9 1251.4v-4M990.4 1250.6h4M1232.6 1250.6h-4M990.4 1142.6h4M1232.6 1142.6h-4M990.4 1034.7h4M1232.6 1034.7h-4M990.4 926.7h4M1232.6 926.7h-4M990.4 818.8h4M1232.6 818.8h-4" stroke="#111" stroke-width="1" fill="none"/>
<rect x="990.7" y="808.5" width="241.6" height="442.6" fill="none" stroke="#222" stroke-width="1.5"/>
<g clip-path="url(#ceb)"><polyline points="990.9,1250.6 1008.2,1250.5 1020.3,1250.4 1044.8,1250.3 1056.4,1250.2 1079.8,1250.1 1103.4,1250 1137.6,1249.8 1076.8,1249.7 1189.3,1249.6 1217.1,1249.5 1265.4,1249.4 1274.7,1249.3 1293.9,1249.2 1395.8,1249.1 1331.7,1249 1191.5,1248.9 1294.5,1248.8 1210.8,1248.7 1221.1,1248.5 1135,1248.4 1196,1248.3 1177.1,1248.2 1174.2,1248.1 1159.6,1248 1125.3,1247.9 1115.7,1247.8 1112.7,1247.7 1092.7,1247.6 1100.4,1247.5 1047.5,1247.4 1106.1,1247.3 1051.3,1247.1 1078.4,1247 1077.1,1246.9 1078,1246.8 1038.6,1246.7 1065.3,1246.6 1037.8,1246.5 1047.6,1246.4 1052.4,1246.3 1053.7,1246.2 1067.7,1246.1 1085.7,1246 1092,1245.9 1115.6,1245.7 1131.5,1245.6 1119.5,1245.5 1088.1,1245.4 1130.6,1245.3 1082,1245.2 1141.9,1245.1 1185.6,1245 1192.7,1244.9 1103.2,1244.8 1159.5,1244.7 1069.8,1244.6 1146.3,1244.4 1085.8,1244.3 1119.4,1244.2 1131.5,1244.1 1117.2,1244 1071.9,1243.9 1087.6,1243.8 1059.2,1243.7 1078.3,1243.6 1030.5,1243.5 1064.3,1243.4 1020.5,1243.3 1042.9,1243.2 1028.4,1243 1019.6,1242.9 1032.6,1242.8 1040.3,1242.7 1028.7,1242.6 1056.3,1242.5 1027.8,1242.4 1064.7,1242.3 1044.6,1242.2 1100.9,1242.1 1111.8,1242 1096.5,1241.9 1094.2,1241.7 1124.7,1241.6 1113.8,1241.5 1117.3,1241.4 1082.6,1241.3 1131.5,1241.2 1151.2,1241.1 1137.9,1241 1064.5,1240.9 1125.1,1240.8 1100.1,1240.7 1115.9,1240.6 1048,1240.5 1105.6,1240.3 1100.6,1240.2 1068.9,1240.1 1039.8,1240 1052.4,1239.9 1036.2,1239.8 1024,1239.7 1014.7,1239.6 1004.5,1239.5 1005.5,1239.4 1015.3,1239.3 1011.9,1239.2 1026.5,1239 1015.1,1238.9 1038.3,1238.8 1039.8,1238.7 1062.4,1238.6 1069.6,1238.5 1059.1,1238.4 1031.1,1238.3 1079,1238.2 1054,1238.1 1074.3,1238 1045.4,1237.9 1083.7,1237.8 1076.6,1237.6 1086.6,1237.5 1061.7,1237.4 1083.2,1237.3 1107.9,1237.2 1101.4,1237.1 1041,1237 1083.6,1236.9 1072.5,1236.8 1068.6,1236.7 1060.6,1236.6 1074.9,1236.5 1049.8,1236.4 1063.3,1236.2 1026.3,1236.1 1049.8,1236 1052.8,1235.9 1038,1235.8 1033.8,1235.7 1030.9,1235.6 1018,1235.5 1027.2,1235.4 1016.9,1235.3 1016.9,1235.2 1004.7,1235.1 1005.2,1234.9 1001.7,1234.8 998.7,1234.7 1001.5,1234.6 1011.1,1234.5 1010.6,1234.4 1023.2,1234.3 1019.7,1234.2 1045,1234.1 1052.8,1234 1056.9,1233.9 1043.1,1233.8 1059.2,1233.7 1039.5,1233.5 1060.7,1233.4 1080.9,1233.3 1065,1233.2 1057.8,1233.1 1068.9,1233 1038,1232.9 1061.3,1232.8 1047,1232.7 1053.8,1232.6 1038.6,1232.5 1048.5,1232.4 1026,1232.2 1041.6,1232.1 1041.5,1232 1032.3,1231.9 1021.6,1231.8 1032.6,1231.7 1022.4,1231.6 1024.4,1231.5 1023,1231.4 1022.9,1231.3 1013.7,1231.2 1014.8,1231.1 1010,1231 1012.3,1230.8 1008.1,1230.7 1009.2,1230.6 1005.8,1230.5 1005.7,1230.4 1004.5,1230.3 1001.7,1230.2 1000.2,1230.1 1008.8,1230 1009.1,1229.9 1017.3,1229.8 1009.9,1229.7 1025.1,1229.5 1030.3,1229.4 1031.5,1229.3 1024.4,1229.2 1037.1,1229.1 1033.8,1229 1037.1,1228.9 1044.3,1228.8 1035.8,1228.7 1014.9,1228.6 1031.4,1228.5 1024,1228.4 1021.4,1228.3 1013.9,1228.1 1015.8,1228 1013.4,1227.9 1010.5,1227.8 1000.9,1227.7 1007.2,1227.6 1001.8,1227.5 1003.5,1227.4 998.4,1227.3 1000.1,1227.2 997.4,1227.1 996.7,1227 995.4,1226.9 994.9,1226.7 992.7,1226.6 993.9,1226.5 993.1,1226.4 993.8,1226.3 993.7,1226.2 991.6,1226 994.2,1225.8 993.4,1225.6 993.9,1225.3 991.7,1225.1 991.8,1224.9 992,1224.7 991.7,1224.5 991.6,1224.3 992.1,1224 992.8,1223.8 992.8,1223.6 992.4,1223.4 994.2,1223.2 994.6,1223 994.4,1222.7 992.3,1222.5 993,1222.3 992.5,1222.1 991.8,1221.9 991.3,1221.7 991.7,1221.5 992.4,1221.2 992.7,1221 992.5,1220.8 992.7,1220.6 992.5,1220.4 992.2,1220.2 991.8,1219.9 991.8,1219.7 992,1219.5 993.6,1219.3 993.4,1219.1 993.7,1218.9 991.3,1218.6 991.5,1218.4 991.5,1218.2 991.7,1218 991.8,1217.8 991.5,1217.6 991.8,1217.4 991.8,1217.1 992.1,1216.9 992,1216.7 991.9,1216.5 991.7,1216.3 991.7,1216.1 991.5,1215.8 991.5,1215.6 991.7,1215.4 991.5,1215.2 991.4,1215 991.5,1214.8 991.7,1214.5 991.6,1214.3 991.5,1214.1 991.6,1213.9 991.3,1213.7 991.6,1213.5 991.8,1213.2 991.7,1213 991.4,1212.8 991.3,1212.6 991.6,1212.4 991.5,1212.2 991.5,1212 991.5,1211.7 991.8,1211.5 991.6,1211.3 991.8,1211.1 991.5,1210.9 991.4,1210.7 991.4,1210.4 991.6,1210.2 991.6,1210 991.7,1209.8 991.6,1209.6 991.6,1209.4 991.7,1209.1 992.1,1208.9 992,1208.7 991.8,1208.5 991.8,1208.3 991.8,1208.1 991.9,1207.9 991.7,1207.6 991.8,1207.4 991.7,1207.2 991.6,1207 991.4,1206.8 991.4,1206.6 991.7,1206.3 991.9,1206.1 991.9,1205.9 991.5,1205.7 991.6,1205.5 991.6,1205.3 991.3,1205 991.4,1204.8 991.3,1204.6 991.4,1204.4 991.5,1204.2 991.5,1204 991.2,1203.7 991.4,1203.5 991.4,1203.3 991.6,1203.1 991.7,1202.9 991.8,1202.7 992,1202.5 991.8,1202.2 992,1202 991.4,1201.8 991.5,1201.6 991.4,1201.4 991.3,1201.2 991.4,1200.9 991.2,1200.7 991.6,1200.5 991.5,1200.3 991.6,1200.1 991.2,1199.9 991.3,1199.6 991.2,1199.4 991.3,1199.2 991.3,1199 991.4,1198.8 991.3,1198.6 991.3,1198.4 991.3,1198.1 991.6,1197.9 991.5,1197.7 991.4,1197.5 991.6,1197.3 991.6,1197.1 991.6,1196.8 991.8,1196.6 991.8,1196.4 991.7,1196.2 991.5,1196 991.6,1195.8 991.5,1195.5 991.3,1195.3 991.3,1195.1 991.3,1194.9 991.4,1194.7 991.3,1194.5 991.2,1194.3 991.5,1194 991.5,1193.8 991.6,1193.6 991.4,1193.4 991.3,1193.2 991.3,1193 991.5,1192.7 991.7,1192.5 991.5,1192.3 991.4,1192.1 991.3,1191.9 991.3,1191.7 991.4,1191.4 991.3,1191.2 991.3,1191 991.3,1190.8 991.3,1190.6 991.2,1190.4 991.4,1190.1 991.3,1189.9 991.3,1189.7 991.3,1189.5 991.3,1189.3 991.3,1189.1 991.4,1188.9 991.4,1188.6 991.4,1188.4 991.5,1188.2 991.4,1188 991.2,1187.8 991.1,1187.6 991.3,1187.3 991.2,1187.1 991.7,1186.9 991.4,1186.7 991.6,1186.5 991.1,1186.3 991.4,1186 991.7,1185.8 991.5,1185.6 991.4,1185.4 991.4,1185.2 991.2,1185 991.2,1184.8 991.2,1184.5 991.4,1184.3 991.4,1184.1 991.7,1183.9 991.2,1183.7 991.3,1183.5 991.3,1183.2 991.2,1183 991.3,1182.8 991.3,1182.6 991.4,1182.4 991.1,1182.2 991.7,1181.9 991.4,1181.7 991.7,1181.5 991.6,1181.3 991.6,1181.1 991.4,1180.9 991.7,1180.6 991.2,1180.4 991.6,1180.2 991.3,1180 991.6,1179.8 991.6,1179.6 991.2,1179.4 991.3,1179.1 991.1,1178.9 991.3,1178.7 991.2,1178.5 991.4,1178.3 991.8,1178.1 991.4,1177.8 991.3,1177.6 991.4,1177.4 991.3,1177.2 991.6,1177 991.6,1176.8 991.2,1176.5 991.3,1176.3 991.6,1176.1 991.7,1175.9 991.5,1175.7 991.4,1175.5 991.7,1175.3 991.1,1175 991.2,1174.8 991.6,1174.6 991.4,1174.4 991.1,1174.2 991.5,1174 991.8,1173.7 991.5,1173.5 991.3,1173.3 991.2,1173.1 991.2,1172.9 991.7,1172.7 991.4,1172.4 991.7,1172.2 991.1,1172 991.3,1171.8 991.1,1171.6 991.4,1171.4 991.2,1171.1 991.3,1170.9 991.4,1170.7 991.3,1170.5 991.1,1170.3 991.1,1170.1 991.7,1169.9 991.2,1169.6 991.4,1169.4 991.4,1169.2 991.5,1169 991.2,1168.8 991.3,1168.6 991.2,1168.3 991.5,1168.1 991.7,1167.9 991.5,1167.7 991.7,1167.5 991.2,1167.3 991.1,1167 991.5,1166.8 991.4,1166.6 991.5,1166.4 991.3,1166.2 991.5,1166 991.6,1165.8 991.7,1165.5 991.3,1165.3 991.4,1165.1 991.6,1164.9 991.3,1164.7 991.2,1164.5 991.3,1164.2 991.2,1164 991.6,1163.8 991.6,1163.6 991.3,1163.4 991.2,1163.2 991.2,1162.9 991.3,1162.7 991.2,1162.5 991.4,1162.3 991.5,1162.1 991.3,1161.9 991.1,1161.6 991.5,1161.4 991.1,1161.2 991.2,1161 991.3,1160.8 991.3,1160.6 991.2,1160.4 991.4,1160.1 991.3,1159.9 991.6,1159.7 991.5,1159.5 991.7,1159.3 991.5,1159.1 991.6,1158.8 991.5,1158.6 991.4,1158.4 991.6,1158.2 991.5,1158 991.7,1157.8 991.6,1157.5 991.5,1157.3 991.3,1157.1 991.6,1156.9 991.3,1156.7 991.2,1156.5 991.1,1156.3 991.2,1156 991.3,1155.8 991.5,1155.6 991.3,1155.4 991.1,1155.2 991.6,1155 991.4,1154.7 991.1,1154.5 991.1,1154.3 991.2,1154.1 991.3,1153.9 991.6,1153.7 991.7,1153.4 991.5,1153.2 991.2,1153 991.4,1152.8 991.3,1152.6 991.3,1152.4 991.1,1152.1 991.5,1151.9 991.6,1151.7 991.5,1151.5 991.2,1151.3 991.4,1151.1 991.2,1150.9 991.5,1150.6 991.4,1150.4 991.7,1150.2 991.6,1150 991.2,1149.8 991.3,1149.6 991.7,1149.3 991.4,1149.1 991.4,1148.9 991.4,1148.7 991.6,1148.5 991.7,1148.3 991.4,1148 991.7,1147.8 991.5,1147.6 991.2,1147.4 991.6,1147.2 991.4,1147 991.1,1146.8 991.7,1146.5 991.1,1146.3 991.4,1146.1 991.4,1145.9 991.6,1145.7 991.3,1145.5 991.2,1145.2 991.3,1145 991.2,1144.8 991.4,1144.6 991.3,1144.4 991.5,1144.2 991.2,1143.9 991.3,1143.7 991.2,1143.5 991.7,1143.3 991.6,1143.1 991.6,1142.9 991.5,1142.6 991.3,1142.4 991.2,1142.2 991.6,1142 991.4,1141.8 991.1,1141.6 991.2,1141.4 991.2,1141.1 991.5,1140.9 991.6,1140.7 991.2,1140.5 991.6,1140.3 991.3,1140.1 991.5,1139.8 991.6,1139.6 991.5,1139.4 991.6,1139.2 991.3,1139 991.1,1138.8 991.4,1138.5 991.4,1138.3 991.2,1138.1 991.3,1137.9 991.3,1137.7 991.1,1137.5 991.3,1137.3 991.3,1137 991.4,1136.8 991.5,1136.6 991.3,1136.4 991.7,1136.2 991.6,1136 991.6,1135.7 991.5,1135.5 991.5,1135.3 991.4,1135.1 991.6,1134.9 991.3,1134.7 991.4,1134.4 991.5,1134.2 991.4,1134 991.3,1133.8 991.1,1133.6 991.1,1133.4 991.3,1133.2 991.4,1132.9 991.5,1132.7 991.5,1132.5 991.3,1132.3 991.6,1132.1 991.2,1131.9 991.5,1131.6 991.1,1131.4 991.5,1131.2 991.5,1131 991.6,1130.8 991.6,1130.6 991.5,1130.3 991.6,1130.1 991.5,1129.9 991.4,1129.7 991.2,1129.5 991.4,1129.3 991.6,1129 991.2,1128.8 991.6,1128.6 991.4,1128.4 991.3,1128.2 991.1,1128 991.3,1127.8 991.2,1127.5 991.5,1127.3 991.6,1127.1 991.6,1126.9 991.4,1126.7 991.3,1126.5 991.2,1126.2 991.5,1126 991.4,1125.8 991.5,1125.6 991.3,1125.4 991.6,1125.2 991.2,1124.9 991.3,1124.7 991.2,1124.5 991.4,1124.3 991.6,1124.1 991.2,1123.9 991.4,1123.7 991.5,1123.4 991.2,1123.2 991.1,1123 991.4,1122.8 991.6,1122.6 991.6,1122.4 991.5,1122.1 991.3,1121.9 991.3,1121.7 991.4,1121.5 991.6,1121.3 991.3,1121.1 991.2,1120.8 991.4,1120.6 991.6,1120.4 991.2,1120.2 991.1,1120 991.2,1119.8 991.4,1119.5 991.4,1119.3 991.2,1119.1 991.2,1118.9 991.4,1118.7 991.4,1118.5 991.5,1118.3 991.5,1118 991.1,1117.8 991.4,1117.6 991.5,1117.4 991.6,1117.2 991.3,1117 991.6,1116.7 991.4,1116.5 991.6,1116.3 991.2,1116.1 991.5,1115.9 991.5,1115.7 991.3,1115.4 991.1,1115.2 991.2,1115 991.2,1114.8 991.1,1114.6 991.2,1114.4 991.4,1114.2 991.1,1113.9 991.5,1113.7 991.5,1113.5 991.5,1113.3 991.5,1113.1 991.5,1112.9 991.6,1112.6 991.6,1112.4 991.4,1112.2 991.6,1112 991.1,1111.8 991.1,1111.6 991.1,1111.3 991.2,1111.1 991.3,1110.9 991.3,1110.7 991.5,1110.5 991.5,1110.3 991.1,1110 991.3,1109.8 991.4,1109.6 991.3,1109.4 991.1,1109.2 991.4,1109 991.3,1108.8 991.5,1108.5 991.3,1108.3 991.6,1108.1 991.6,1107.9 991.1,1107.7 991.5,1107.5 991.5,1107.2 991.2,1107 991.1,1106.8 991.3,1106.6 991.3,1106.4 991.5,1106.2 991.6,1105.9 991.3,1105.7 991.2,1105.5 991.3,1105.3 991.5,1105.1 991.5,1104.9 991.4,1104.7 991.2,1104.4 991.3,1104.2 991.5,1104 991.4,1103.8 991.1,1103.6 991.3,1103.4 991.2,1103.1 991.4,1102.9 991.1,1102.7 991.2,1102.5 991.1,1102.3 991.3,1102.1 991.6,1101.8 991.4,1101.6 991.3,1101.4 991.6,1101.2 991.1,1101 991.3,1100.8 991.5,1100.5 991.1,1100.3 991.5,1100.1 991.3,1099.9 991.1,1099.7 991.2,1099.5 991.3,1099.3 991.3,1099 991.3,1098.8 991.1,1098.6 991.2,1098.4 991.6,1098.2 991.3,1098 991.3,1097.7 991.1,1097.5 991.2,1097.3 991.6,1097.1 991.4,1096.9 991.3,1096.7 991.1,1096.4 991.3,1096.2 991.5,1096 991.3,1095.8 991.4,1095.6 991.5,1095.4 991.4,1095.2 991.4,1094.9 991.1,1094.7 991.1,1094.5 991.5,1094.3 991.3,1094.1 991.5,1093.9 991.5,1093.6 991.6,1093.4 991.3,1093.2 991.6,1093 991.5,1092.8 991.5,1092.6 991.2,1092.3 991.5,1092.1 991.3,1091.9 991.6,1091.7 991.6,1091.5 991.2,1091.3 991.3,1091 991.2,1090.8 991.3,1090.6 991.2,1090.4 991.4,1090.2 991.1,1090 991.2,1089.8 991.3,1089.5 991.1,1089.3 991.3,1089.1 991.5,1088.9 991.5,1088.7 991.2,1088.5 991.1,1088.2 991.5,1088 991.6,1087.8 991.4,1087.6 991.1,1087.4 991.2,1087.2 991.5,1086.9 991.6,1086.7 991.1,1086.5 991.2,1086.3 991.3,1086.1 991.2,1085.9 991.5,1085.7 991.3,1085.4 991.5,1085.2 991.1,1085 991.3,1084.8 991.6,1084.6 991.4,1084.4 991.1,1084.1 991.1,1083.9 991.4,1083.7 991.3,1083.5 991.3,1083.3 991.3,1083.1 991.4,1082.8 991.6,1082.6 991.2,1082.4 991.4,1082.2 991.2,1082 991.3,1081.8 991.4,1081.6 991.1,1081.3 991.3,1081.1 991.4,1080.9 991.1,1080.7 991.5,1080.5 991.3,1080.3 991.3,1080 991.4,1079.8 991.5,1079.6 991.1,1079.4 991.3,1079.2 991.1,1079 991.3,1078.7 991.2,1078.5 991.1,1078.3 991.2,1078.1 991.3,1077.9 991.4,1077.7 991.5,1077.4 991.3,1077.2 991.3,1077 991.4,1076.8 991.5,1076.6 991.5,1076.4 991.6,1076.2 991.2,1075.9 991.2,1075.7 991.5,1075.5 991.1,1075.3 991.3,1075.1 991.4,1074.9 991.3,1074.6 991.3,1074.4 991.5,1074.2 991.2,1074 991.3,1073.8 991.5,1073.6 991.1,1073.3 991.2,1073.1 991.3,1072.9 991.3,1072.7 991.2,1072.5 991.3,1072.3 991.1,1072.1 991.1,1071.8 991.2,1071.6 991.1,1071.4 991.5,1071.2 991.2,1071 991.2,1070.8 991.5,1070.5 991.4,1070.3 991.2,1070.1 991.5,1069.9 991.4,1069.7 991.3,1069.5 991.4,1069.2 991.2,1069 991.2,1068.8 991.5,1068.6 991.3,1068.4 991.5,1068.2 991.2,1067.9 991.1,1067.7 991.1,1067.5 991.4,1067.3 991.3,1067.1 991.1,1066.9 991.1,1066.7 991.5,1066.4 991.3,1066.2 991.5,1066 991.1,1065.8 991.4,1065.6 991.1,1065.4 991.4,1065.1 991.4,1064.9 991.4,1064.7 991.2,1064.5 991.5,1064.3 991.1,1064.1 991.1,1063.8 991.4,1063.6 991.1,1063.4 991.1,1063.2 991.3,1063 991.4,1062.8 991.5,1062.6 991.4,1062.3 991.1,1062.1 991.4,1061.9 991.5,1061.7 991.1,1061.5 991.4,1061.3 991.2,1061 991.2,1060.8 991.1,1060.6 991.4,1060.4 991.3,1060.2 991.5,1060 991.3,1059.7 991.1,1059.5 991.2,1059.3 991.2,1059.1 991.5,1058.9 991.2,1058.7 991.1,1058.4 991.2,1058.2 991.1,1058 991.3,1057.8 991.4,1057.6 991.4,1057.4 991.1,1057.2 991.1,1056.9 991.3,1056.7 991.4,1056.5 991.3,1056.3 991.3,1056.1 991.5,1055.9 991.1,1055.6 991.2,1055.4 991.3,1055.2 991.3,1055 991.5,1054.8 991.3,1054.6 991.4,1054.3 991.3,1054.1 991.4,1053.9 991.5,1053.7 991.2,1053.5 991.1,1053.3 991.2,1053.1 991.2,1052.8 991.5,1052.6 991.2,1052.4 991.4,1052.2 991.4,1052 991.5,1051.8 991.1,1051.5 991.4,1051.3 991.2,1051.1 991.1,1050.9 991.4,1050.7 991.5,1050.5 991.3,1050.2 991.1,1050 991.5,1049.8 991.2,1049.6 991.4,1049.4 991.4,1049.2 991.2,1048.9 991.3,1048.7 991.2,1048.5 991.1,1048.3 991.1,1048.1 991.4,1047.9 991.3,1047.7 991.5,1047.4 991.1,1047.2 991.2,1047 991.1,1046.8 991.5,1046.6 991.4,1046.4 991.5,1046.1 991.3,1045.9 991.1,1045.7 991.3,1045.5 991.2,1045.3 991.1,1045.1 991.3,1044.8 991.2,1044.6 991.1,1044.4 991.3,1044.2 991.5,1044 991.5,1043.8 991.3,1043.6 991.1,1043.3 991.4,1043.1 991.1,1042.9 991.3,1042.7 991.1,1042.5 991.5,1042.3 991.3,1042 991.3,1041.8 991.2,1041.6 991.3,1041.4 991.5,1041.2 991.3,1041 991.2,1040.7 991.3,1040.5 991.5,1040.3 991.2,1040.1 991.3,1039.9 991.5,1039.7 991.2,1039.4 991.4,1039.2 991.3,1039 991.1,1038.8 991.1,1038.6 991.5,1038.4 991.3,1038.2 991.3,1037.9 991.5,1037.7 991.3,1037.5 991.3,1037.3 991.2,1037.1 991.4,1036.9 991.2,1036.6 991.3,1036.4 991.4,1036.2 991.3,1036 991.1,1035.8 991.1,1035.6 991.4,1035.3 991.4,1035.1 991.1,1034.9 991.5,1034.7 991.1,1034.5 991.1,1034.3 991.1,1034.1 991.3,1033.8 991.3,1033.6 991.4,1033.4 991.1,1033.2 991.4,1033 991.1,1032.8 991.3,1032.5 991.2,1032.3 991.2,1032.1 991.1,1031.9 991.4,1031.7 991.1,1031.5 991.4,1031.2 991.2,1031 991.3,1030.8 991.3,1030.6 991.3,1030.4 991.4,1030.2 991.5,1030 991.2,1029.7 991.2,1029.5 991.4,1029.3 991.1,1029.1 991.2,1028.9 991.2,1028.7 991.5,1028.4 991.1,1028.2 991.3,1028 991.4,1027.8 991.4,1027.6 991.1,1027.4 991.5,1027.1 991.2,1026.9 991.4,1026.7 991.3,1026.5 991.2,1026.3 991.4,1026.1 991.4,1025.8 991.2,1025.6 991.4,1025.4 991.3,1025.2 991.4,1025 991.3,1024.8 991.4,1024.6 991.1,1024.3 991.3,1024.1 991,1023.9 991.4,1023.7 991.4,1023.5 991.4,1023.3 991.1,1023 991.3,1022.8 991.3,1022.6 991.1,1022.4 991.1,1022.2 991.5,1022 991.4,1021.7 991.2,1021.5 991.4,1021.3 991.3,1021.1 991.2,1020.9 991.3,1020.7 991.2,1020.5 991.2,1020.2 991.1,1020 991.3,1019.8 991.3,1019.6 991.4,1019.4 991.3,1019.2 991.2,1018.9 991.2,1018.7 991.4,1018.5 991.2,1018.3 991.3,1018.1 991.4,1017.9 991.2,1017.6 991.4,1017.4 991.1,1017.2 991.2,1017 991.4,1016.8 991.1,1016.6 991.1,1016.3 991.1,1016.1 991.4,1015.9 991.1,1015.7 991.2,1015.5 991.2,1015.3 991.4,1015.1 991.3,1014.8 991.3,1014.6 991.1,1014.4 991.4,1014.2 991.4,1014 991.3,1013.8 991.4,1013.5 991.3,1013.3 991.4,1013.1 991.4,1012.9 991.3,1012.7 991.1,1012.5 991.4,1012.2 991.5,1012 991.1,1011.8 991.1,1011.6 991.2,1011.4 991.1,1011.2 991.2,1011 991.1,1010.7 991.1,1010.5 991,1010.3 991.2,1010.1 991.2,1009.9 991.4,1009.7 991.2,1009.4 991.1,1009.2 991.5,1009 991.4,1008.8 991.3,1008.6 991.1,1008.4 991.2,1008.1 991.2,1007.9 991.2,1007.7 991.1,1007.5 991.2,1007.3 991.4,1007.1 991.3,1006.8 991.4,1006.6 991.3,1006.4 991.4,1006.2 991.4,1006 991.4,1005.8 991.4,1005.6 991.2,1005.3 991.3,1005.1 991.3,1004.9 991.4,1004.7 991.4,1004.5 991.2,1004.3 991.1,1004 991.2,1003.8 991.2,1003.6 991.3,1003.4 991.4,1003.2 991.1,1003 991.3,1002.7 991.4,1002.5 991.2,1002.3 991.1,1002.1 991.3,1001.9 991.2,1001.7 991.1,1001.5 991.2,1001.2 991,1001 991.1,1000.8 991.2,1000.6 991.1,1000.4 991,1000.2 991.3,999.9 991.5,999.7 991.4,999.5 991.2,999.3 991.4,999.1 991.1,998.9 991.1,998.6 991,998.4 991.1,998.2 991.3,998 991.4,997.8 991.2,997.6 991.4,997.3 991.2,997.1 991.4,996.9 991.3,996.7 991.3,996.5 991.1,996.3 991.2,996.1 991.2,995.8 991.4,995.6 991.1,995.4 991.2,995.2 991.4,995 991.1,994.8 991.3,994.5 991.1,994.3 991.3,994.1 991.3,993.9 991.1,993.7 991.3,993.5 991.2,993.2 991.2,993 991.4,992.8 991.4,992.6 991.2,992.4 991.3,992.2 991.1,992 991.3,991.7 991.1,991.5 991.3,991.3 991.4,991.1 991.3,990.9 991.1,990.7 991.3,990.4 991.2,990.2 991.2,990 991.1,989.8 991.2,989.6 991.2,989.4 991.1,989.1 991.3,988.9 991.1,988.7 991.2,988.5 991.1,988.3 991.2,988.1 991.4,987.8 991.2,987.6 991.1,987.4 991.2,987.2 991.4,987 991.1,986.8 991.2,986.6 991.1,986.3 991.3,986.1 991.2,985.9 991.1,985.7 991.4,985.5 991.2,985.3 991.3,985 991.2,984.8 991.4,984.6 991.1,984.4 991.1,984.2 991.2,984 991.1,983.7 991.4,983.5 991.2,983.3 991.2,983.1 991.2,982.9 991.4,982.7 991.3,982.5 991.2,982.2 991.3,982 991.3,981.8 991.2,981.6 991.2,981.4 991.1,981.2 991.2,980.9 991.4,980.7 991.2,980.5 991.2,980.3 991.3,980.1 991.3,979.9 991.1,979.6 991.2,979.4 991.3,979.2 991.1,979 991.1,978.8 991.3,978.6 991.4,978.4 991.1,978.1 991.1,977.9 991.3,977.7 991.2,977.5 991.3,977.3 991.1,977.1 991.2,976.8 991.1,976.6 991.2,976.4 991.3,976.2 991.2,976 991.4,975.8 991.4,975.5 991.3,975.3 991.4,975.1 991.1,974.9 991.2,974.7 991.2,974.5 991.3,974.2 991.1,974 991.4,973.8 991.2,973.6 991.4,973.4 991.4,973.2 991.4,973 991.2,972.7 991.4,972.5 991.4,972.3 991.1,972.1 991.3,971.9 991.3,971.7 991.2,971.4 991.1,971.2 991.1,971 991.2,970.8 991.4,970.6 991.2,970.4 991.1,970.1 991.3,969.9 991.2,969.7 991.3,969.5 991.2,969.3 991.1,969.1 991,968.9 991.4,968.6 991.3,968.4 991.1,968.2 991.2,968 991.3,967.8 991.2,967.6 991.4,967.3 991.3,967.1 991.2,966.9 991.2,966.7 991.3,966.5 991.1,966.3 991.4,966 991.1,965.8 991.2,965.6 991.1,965.4 991.2,965.2 991.1,965 991.1,964.7 991.4,964.5 991.3,964.3 991.1,964.1 991.2,963.9 991,963.7 991.1,963.5 991.1,963.2 991.4,963 991.2,962.8 991.1,962.6 991.1,962.4 991.1,962.2 991.4,961.9 991.3,961.7 991.4,961.5 991.4,961.3 991.3,961.1 991.1,960.9 991.1,960.6 991.1,960.4 991.1,960.2 991.1,960 991.3,959.8 991.2,959.6 991,959.4 991.2,959.1 991.4,958.9 991.4,958.7 991.3,958.5 991.3,958.3 991.4,958.1 991.3,957.8 991.2,957.6 991.3,957.4 991.1,957.2 991,957 991.1,956.8 991.2,956.5 991.1,956.3 991.1,956.1 991.1,955.9 991.2,955.7 991.4,955.5 991.2,955.2 991.4,955 991.3,954.8 991.3,954.6 991.2,954.4 991.2,954.2 991.2,954 991.3,953.7 991.4,953.5 991.3,953.3 991.1,953.1 991.1,952.9 991,952.7 991.3,952.4 991.1,952.2 991,952 991.1,951.8 991.1,951.6 991.1,951.4 991.3,951.1 991.3,950.9 991.1,950.7 991.3,950.5 991.1,950.3 991.4,950.1 991.1,949.9 991.3,949.6 991.3,949.4 991.3,949.2 991.2,949 991.4,948.8 991.3,948.6 991.3,948.3 991.1,948.1 991.1,947.9 991.2,947.7 991.2,947.5 991.1,947.3 991.3,947 991.2,946.8 991.2,946.6 991.2,946.4 991.4,946.2 991.1,946 991.2,945.7 991.3,945.5 991.3,945.3 991.1,945.1 991.1,944.9 991.2,944.7 991.3,944.5 991.3,944.2 991.1,944 991.2,943.8 991.2,943.6 991.1,943.4 991.1,943.2 991.4,942.9 991,942.7 991.2,942.5 991.1,942.3 991,942.1 991.1,941.9 991.1,941.6 991.2,941.4 991.4,941.2 991.1,941 991.2,940.8 991.3,940.6 991.3,940.4 991,940.1 991.1,939.9 991.1,939.7 991.4,939.5 991.2,939.3 991.1,939.1 991.2,938.8 991.2,938.6 991.1,938.4 991.3,938.2 991.3,938 991.2,937.8 991.2,937.5 991.3,937.3 991.4,937.1 991.3,936.9 991,936.7 991.2,936.5 991.3,936.2 991.2,936 991.3,935.8 991.2,935.6 991.3,935.4 991.3,935.2 991.3,935 991.4,934.7 991.3,934.5 991.3,934.3 991.3,934.1 991.1,933.9 991.3,933.7 991.3,933.4 991,933.2 991.3,933 991.1,932.8 991.2,932.6 991.2,932.4 991.3,932.1 991.3,931.9 991.2,931.7 991.4,931.5 991.2,931.3 991.2,931.1 991.4,930.9 991.1,930.6 991.3,930.4 991.4,930.2 991.1,930 991.3,929.8 991.3,929.6 991.2,929.3 991.3,929.1 991.3,928.9 991.1,928.7 991.2,928.5 991.3,928.3 991.3,928 991.4,927.8 991.3,927.6 991.3,927.4 991,927.2 991.2,927 991.4,926.7 991.4,926.5 991.3,926.3 991.1,926.1 991.3,925.9 991.2,925.7 991.3,925.5 991.3,925.2 991.3,925 991.3,924.8 991.4,924.6 991.2,924.4 991.2,924.2 991.3,923.9 991.2,923.7 991,923.5 991.4,923.3 991.1,923.1 991.2,922.9 991,922.6 991.1,922.4 991.4,922.2 991.1,922 991.1,921.8 991.3,921.6 991.1,921.4 991.3,921.1 991.2,920.9 991.4,920.7 991.2,920.5 991.1,920.3 991.1,920.1 991.2,919.8 991,919.6 991.1,919.4 991.1,919.2 991.1,919 991.3,918.8 991.4,918.5 991.2,918.3 991.1,918.1 991.1,917.9 991.3,917.7 991.2,917.5 991.1,917.3 991.2,917 991.1,916.8 991.1,916.6 991.3,916.4 991.1,916.2 991.2,916 991.3,915.7 991.2,915.5 991.3,915.3 991.1,915.1 991.4,914.9 991,914.7 991.3,914.4 991.2,914.2 991,914 991.1,913.8 991.4,913.6 991.3,913.4 991.3,913.1 991.3,912.9 991,912.7 991.1,912.5 991.2,912.3 991.4,912.1 991.4,911.9 991.1,911.6 991.4,911.4 991.2,911.2 991.1,911 991.1,910.8 991.2,910.6 991.2,910.3 991.2,910.1 991.1,909.9 991.4,909.7 991.2,909.5 991.1,909.3 991.3,909 991.1,908.8 991.2,908.6 991.1,908.4 991.1,908.2 991.4,908 991.2,907.8 991.2,907.5 991.3,907.3 991.3,907.1 991.2,906.9 991.2,906.7 991.1,906.5 991,906.2 991.1,906 991.2,905.8 991,905.6 991.3,905.4 991.1,905.2 991.1,904.9 991.1,904.7 991.2,904.5 991.1,904.3 991.3,904.1 991.2,903.9 991,903.6 991.1,903.4 991.3,903.2 991.2,903 991.1,902.8 991.3,902.6 991,902.4 991.3,902.1 991.4,901.9 991.3,901.7 991,901.5 991.2,901.3 991.3,901.1 991.2,900.8 991.1,900.6 991.1,900.4 991,900.2 991.2,900 991.1,899.8 991.2,899.5 991.3,899.3 991.3,899.1 991.2,898.9 991.3,898.7 991.1,898.5 991.4,898.3 991.3,898 991.2,897.8 991.3,897.6 991.1,897.4 991.4,897.2 991.1,897 991.3,896.7 991.3,896.5 991.4,896.3 991.3,896.1 991,895.9 991.1,895.7 991.3,895.4 991.3,895.2 991.3,895 991,894.8 991.1,894.6 991.1,894.4 991.1,894.1 991.1,893.9 991.2,893.7 991.1,893.5 991.1,893.3 991.2,893.1 991.4,892.9 991.2,892.6 991.3,892.4 991.3,892.2 991,892 991.3,891.8 991.1,891.6 991.1,891.3 991.3,891.1 991.3,890.9 991.2,890.7 991.2,890.5 991.3,890.3 991.2,890 991.1,889.8 991.1,889.6 991.1,889.4 991,889.2 991.4,889 991.4,888.8 991.1,888.5 991.2,888.3 991.1,888.1 991.3,887.9 991.2,887.7 991.1,887.5 991.3,887.2 991.3,887 991,886.8 991.2,886.6 991.1,886.4 991.2,886.2 991.1,885.9 991.1,885.7 991.1,885.5 991.2,885.3 991.2,885.1 991.2,884.9 991.3,884.6 991.2,884.4 991.3,884.2 991.2,884 991.3,883.8 991.3,883.6 991.2,883.4 991.2,883.1 991.3,882.9 991.3,882.7 991.1,882.5 991.2,882.3 991.1,882.1 991,881.8 991.3,881.6 991.1,881.4 991.1,881.2 991,881 991,880.8 991.2,880.5 991.1,880.3 991.2,880.1 991.2,879.9 991.3,879.7 991.3,879.5 991.1,879.3 991.4,879 991.1,878.8 991.2,878.6 991.2,878.4 991.1,878.2 991.3,878 991.2,877.7 991.3,877.5 991.1,877.3 991.3,877.1 991.1,876.9 991.2,876.7 991.3,876.4 991.1,876.2 991.1,876 991.1,875.8 991.4,875.6 991.2,875.4 991.2,875.1 991.2,874.9 991.2,874.7 991.1,874.5 991,874.3 991.1,874.1 991.2,873.9 991.2,873.6 991.3,873.4 991.2,873.2 991.3,873 991.4,872.8 991.2,872.6 991.2,872.3 991.2,872.1 991.1,871.9 991.3,871.7 991.2,871.5 991.1,871.3 991.3,871 991.2,870.8 991.3,870.6 991.2,870.4 991.2,870.2 991.2,870 991.1,869.8 991.1,869.5 991.3,869.3 991.1,869.1 991.1,868.9 991.3,868.7 991.3,868.5 991.3,868.2 991.1,868 991.1,867.8 991.3,867.6 991.1,867.4 991.2,867.2 991.2,866.9 991.1,866.7 991,866.5 991.2,866.3 991.3,866.1 991.2,865.9 991.3,865.7 991.1,865.4 991.3,865.2 991.2,865 991.2,864.8 991.1,864.6 991.1,864.4 991.2,864.1 991.2,863.9 991.3,863.7 991.2,863.5 991.2,863.3 991.2,863.1 991.2,862.8 991.1,862.6 991.1,862.4 991.2,862.2 991.1,862 991,861.8 991.1,861.5 991.1,861.3 991.2,861.1 991.2,860.9 991.2,860.7 991.3,860.5 991.1,860.3 991.1,860 991.3,859.8 991.2,859.6 991.2,859.4 991.3,859.2 991,859 991.2,858.7 991.3,858.5 991.3,858.3 991.1,858.1 991.3,857.9 991.2,857.7 991.3,857.4 991.1,857.2 991.2,857 991.2,856.8 991.3,856.6 991.1,856.4 991.1,856.2 991.1,855.9 991.2,855.7 991,855.5 991.3,855.3 991.1,855.1 991.1,854.9 991.3,854.6 991.2,854.4 991.3,854.2 991.1,854 991.1,853.8 991.1,853.6 991.3,853.3 991.1,853.1 991.3,852.9 991.3,852.7 991.2,852.5 991.1,852.3 991.3,852 991.3,851.8 991.2,851.6 991.1,851.4 991.2,851.2 991.3,851 991.2,850.8 991.1,850.5 991.1,850.3 991.2,850.1 991,849.9 991,849.7 991.1,849.5 991.1,849.2 991.2,849 991,848.8 991.2,848.6 991.2,848.4 991.1,848.2 991.2,847.9 991.2,847.7 991.3,847.5 991.2,847.3 991.2,847.1 991.2,846.9 991.3,846.7 991,846.4 991,846.2 991.3,846 991.3,845.8 991,845.6 991.3,845.4 991.2,845.1 991.3,844.9 991.2,844.7 991.1,844.5 991,844.3 991.3,844.1 991.2,843.8 991.2,843.6 991.1,843.4 991.1,843.2 991.3,843 991.2,842.8 991.1,842.5 991.3,842.3 991.3,842.1 991.1,841.9 991.1,841.7 991.2,841.5 991.1,841.3 991.2,841 991.2,840.8 991.1,840.6 991.2,840.4 991.1,840.2 991.1,840 991.2,839.7 991.1,839.5 991.3,839.3 991.1,839.1 991.3,838.9 991.1,838.7 991.1,838.4 991,838.2 991.1,838 991.3,837.8 991.1,837.6 991.3,837.4 991.3,837.2 991.2,836.9 991.1,836.7 991.1,836.5 991.1,836.3 991.1,836.1 991.1,835.9 991.1,835.6 991.2,835.4 991.2,835.2 991.1,835 991.1,834.8 991.1,834.6 991,834.3 991.1,834.1 991,833.9 991.2,833.7 991.1,833.5 991.3,833.3 991.1,833 991.3,832.8 991.3,832.6 991.3,832.4 991.1,832.2 991.3,832 991.2,831.8 991.3,831.5 991.2,831.3 991.2,831.1 991.1,830.9 991.2,830.7 991.1,830.5 991.3,830.2 991.2,830 991.1,829.8 991,829.6 991.1,829.4 991.1,829.2 991.1,828.9 991.2,828.7 991,828.5 991.2,828.3 991.3,828.1 991.3,827.9 991.2,827.7 991.2,827.4 991.2,827.2 991.3,827 991.3,826.8 991.2,826.6 991.2,826.4 991.3,826.1 991.2,825.9 991.2,825.7 991.1,825.5 991.2,825.3 991.2,825.1 991.3,824.8 991.3,824.6 991.3,824.4 991.3,824.2 991,824 991,823.8 991.1,823.5 991.3,823.3 991.2,823.1 991.1,822.9 991,822.7 991.1,822.5 991,822.3 991.1,822 991.2,821.8 991.1,821.6 991.1,821.4 991.2,821.2 991,821 991.3,820.7 991.2,820.5 991.3,820.3 991.2,820.1 991.2,819.9 991.1,819.7 991.1,819.4 991.1,819.2 991.1,819 991.3,818.8 991.1,818.6 991.3,818.4 991.2,818.2 991,817.9 991.1,817.7 991.2,817.5 991.3,817.3 991.1,817.1 991.1,816.9 991.1,816.6 991.1,816.4 991.1,816.2 991.3,816 991.2,815.8 991.1,815.6 991.1,815.3 991.2,815.1 991.1,814.9 991.1,814.7 991,814.5 991.2,814.3 991.3,814.1 991.3,813.8 991.2,813.6 991.1,813.4 991.2,813.2 991.2,813 991.1,812.8 991.2,812.5 991.2,812.3 991.1,812.1 991.1,811.9 991.3,811.7 991.2,811.5 991.1,811.2 991.1,811 991.2,810.8 991.2,810.6 991.1,810.4 991.2,810.2 991.1,809.9 991.2,809.7 991.3,809.5 991.1,809.3 991.2,809.1 991.2,808.9 991.2,808.7" fill="none" stroke="#0000ff" stroke-width="1.5" stroke-linejoin="round"/></g>
<text x="990.9" y="1283.7" font-size="27.16" text-anchor="middle">0</text>
<text x="1102.4" y="1283.7" font-size="27.16" text-anchor="middle">200</text>
<text x="1214.9" y="1283.7" font-size="27.16" text-anchor="middle">400</text>
<text x="1114.5" y="787.8" font-size="26.5" text-anchor="middle" textLength="184.3" lengthAdjust="spacingAndGlyphs">Energy Spectrum</text>
<text transform="translate(906.2 1037.3) rotate(-90)" font-size="26.5" text-anchor="middle" textLength="158.6" lengthAdjust="spacingAndGlyphs">Frequency(Hz)</text>
<path d="M981.2 812.9A7.55 7.55 0 0 1 988.8 805.4H1009.4A7.55 7.55 0 0 1 1016.9 812.9V1211.5A7.55 7.55 0 0 1 1009.4 1219H988.8A7.55 7.55 0 0 1 981.2 1211.5Z" fill="none" stroke="#ff0000" stroke-width="2.85" stroke-dasharray="11.05 8.39" stroke-dashoffset="-1.2"/>
<rect x="1086.5" y="1164.4" width="99" height="69.7" fill="#ffffee" stroke="#cfcfc4" stroke-width="1"/>
<text x="1097" y="1194" font-size="20.8" textLength="73.8" lengthAdjust="spacingAndGlyphs">X: 358.9</text>
<text x="1097" y="1219" font-size="20.8" textLength="64.2" lengthAdjust="spacingAndGlyphs">Y: 26.4</text>
<rect x="1180.2" y="1232.4" width="25.3" height="25.7" fill="#ffffe0"/>
<rect x="1185" y="1237.7" width="15.7" height="15.2" fill="#000"/>
<text class="cap" x="402.8" y="1408.7" textLength="43.9" lengthAdjust="spacingAndGlyphs">(<tspan font-weight="bold">b</tspan>)</text>
<text class="cap" x="460.7" y="1408.7" textLength="260.7" lengthAdjust="spacingAndGlyphs">The noise signal</text>
</svg>
</body></html>
